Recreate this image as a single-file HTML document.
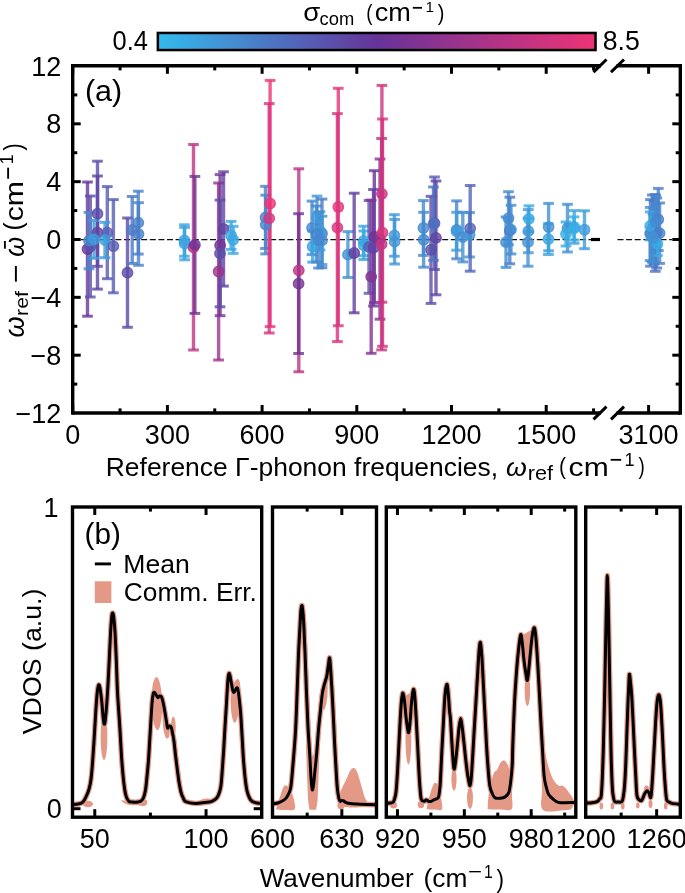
<!DOCTYPE html><html><head><meta charset="utf-8"><style>html,body{margin:0;padding:0;background:#fff;}svg{display:block;will-change:transform;}text{font-family:"Liberation Sans", sans-serif;}</style></head><body>
<svg width="685" height="893" viewBox="0 0 685 893">
<defs><linearGradient id="cb" x1="0" x2="1" y1="0" y2="0"><stop offset="0" stop-color="#33bbee"/><stop offset="0.5" stop-color="#663399"/><stop offset="1" stop-color="#ee3377"/></linearGradient><clipPath id="clipL"><rect x="72.7" y="65.8" width="527.3" height="347.2"/></clipPath></defs>
<rect width="685" height="893" fill="#fff"/>
<rect x="157.85" y="32.95" width="437.7" height="17.1" fill="url(#cb)" stroke="#000" stroke-width="2.5"/>
<text transform="translate(113.60,50.30) scale(0.9443,1)" x="-1.05" y="0" font-size="27">0.4</text>
<text transform="translate(603.80,50.30) scale(0.9879,1)" x="-1.17" y="0" font-size="27">8.5</text>
<text transform="translate(303.25,21.14) scale(1.0576,1.0221)" x="0" y="0" font-size="26">σ</text>
<text transform="translate(319.62,24.62) scale(0.9665,0.9511)" x="0" y="0" font-size="19">com</text>
<text transform="translate(366.13,19.53) scale(0.7858,0.9392)" x="0" y="0" font-size="24">(</text>
<text transform="translate(374.65,21.35) scale(1.0427,0.9829)" x="0" y="0" font-size="26">cm</text>
<text transform="translate(411.97,15.60) scale(0.9966,1.3289)" x="0" y="0" font-size="19">−</text>
<text transform="translate(425.53,12.20) scale(0.8057,0.8109)" x="0" y="0" font-size="19">1</text>
<text transform="translate(437.68,19.53) scale(0.8329,0.9392)" x="0" y="0" font-size="24">)</text>
<line x1="81" y1="239.5" x2="600.0" y2="239.5" stroke="#111" stroke-width="1.25" stroke-dasharray="6 2.6"/>
<line x1="617.5" y1="239.5" x2="672" y2="239.5" stroke="#111" stroke-width="1.25" stroke-dasharray="6 2.6"/>
<line x1="591" y1="239.5" x2="600" y2="239.5" stroke="#000" stroke-width="3.2"/>
<g>
<line x1="87.50" y1="182.00" x2="87.50" y2="316.20" stroke="#6c3397" stroke-width="3.4" stroke-opacity="0.8"/>
<line x1="82.15" y1="182.00" x2="92.85" y2="182.00" stroke="#6c3397" stroke-width="3.0" stroke-opacity="0.8"/>
<line x1="82.15" y1="316.20" x2="92.85" y2="316.20" stroke="#6c3397" stroke-width="3.0" stroke-opacity="0.8"/>
<line x1="90.30" y1="196.00" x2="90.30" y2="297.00" stroke="#5a53ad" stroke-width="3.4" stroke-opacity="0.8"/>
<line x1="84.95" y1="196.00" x2="95.65" y2="196.00" stroke="#5a53ad" stroke-width="3.0" stroke-opacity="0.8"/>
<line x1="84.95" y1="297.00" x2="95.65" y2="297.00" stroke="#5a53ad" stroke-width="3.0" stroke-opacity="0.8"/>
<line x1="89.00" y1="212.40" x2="89.00" y2="268.80" stroke="#4787cd" stroke-width="3.4" stroke-opacity="0.8"/>
<line x1="83.65" y1="212.40" x2="94.35" y2="212.40" stroke="#4787cd" stroke-width="3.0" stroke-opacity="0.8"/>
<line x1="83.65" y1="268.80" x2="94.35" y2="268.80" stroke="#4787cd" stroke-width="3.0" stroke-opacity="0.8"/>
<line x1="97.50" y1="161.20" x2="97.50" y2="266.30" stroke="#5c4eaa" stroke-width="3.4" stroke-opacity="0.8"/>
<line x1="92.15" y1="161.20" x2="102.85" y2="161.20" stroke="#5c4eaa" stroke-width="3.0" stroke-opacity="0.8"/>
<line x1="92.15" y1="266.30" x2="102.85" y2="266.30" stroke="#5c4eaa" stroke-width="3.0" stroke-opacity="0.8"/>
<line x1="97.50" y1="176.00" x2="97.50" y2="289.10" stroke="#5f45a4" stroke-width="3.4" stroke-opacity="0.8"/>
<line x1="92.15" y1="176.00" x2="102.85" y2="176.00" stroke="#5f45a4" stroke-width="3.0" stroke-opacity="0.8"/>
<line x1="92.15" y1="289.10" x2="102.85" y2="289.10" stroke="#5f45a4" stroke-width="3.0" stroke-opacity="0.8"/>
<line x1="94.00" y1="220.40" x2="94.00" y2="258.30" stroke="#3e9cdb" stroke-width="3.4" stroke-opacity="0.8"/>
<line x1="88.65" y1="220.40" x2="99.35" y2="220.40" stroke="#3e9cdb" stroke-width="3.0" stroke-opacity="0.8"/>
<line x1="88.65" y1="258.30" x2="99.35" y2="258.30" stroke="#3e9cdb" stroke-width="3.0" stroke-opacity="0.8"/>
<line x1="107.30" y1="186.60" x2="107.30" y2="278.70" stroke="#565db4" stroke-width="3.4" stroke-opacity="0.8"/>
<line x1="101.95" y1="186.60" x2="112.65" y2="186.60" stroke="#565db4" stroke-width="3.0" stroke-opacity="0.8"/>
<line x1="101.95" y1="278.70" x2="112.65" y2="278.70" stroke="#565db4" stroke-width="3.0" stroke-opacity="0.8"/>
<line x1="105.00" y1="222.30" x2="105.00" y2="257.70" stroke="#3d9fdd" stroke-width="3.4" stroke-opacity="0.8"/>
<line x1="99.65" y1="222.30" x2="110.35" y2="222.30" stroke="#3d9fdd" stroke-width="3.0" stroke-opacity="0.8"/>
<line x1="99.65" y1="257.70" x2="110.35" y2="257.70" stroke="#3d9fdd" stroke-width="3.0" stroke-opacity="0.8"/>
<line x1="113.40" y1="199.60" x2="113.40" y2="292.80" stroke="#575cb3" stroke-width="3.4" stroke-opacity="0.8"/>
<line x1="108.05" y1="199.60" x2="118.75" y2="199.60" stroke="#575cb3" stroke-width="3.0" stroke-opacity="0.8"/>
<line x1="108.05" y1="292.80" x2="118.75" y2="292.80" stroke="#575cb3" stroke-width="3.0" stroke-opacity="0.8"/>
<line x1="127.50" y1="218.00" x2="127.50" y2="327.30" stroke="#5e4aa7" stroke-width="3.4" stroke-opacity="0.8"/>
<line x1="122.15" y1="218.00" x2="132.85" y2="218.00" stroke="#5e4aa7" stroke-width="3.0" stroke-opacity="0.8"/>
<line x1="122.15" y1="327.30" x2="132.85" y2="327.30" stroke="#5e4aa7" stroke-width="3.0" stroke-opacity="0.8"/>
<line x1="132.20" y1="196.50" x2="132.20" y2="263.40" stroke="#4b7bc6" stroke-width="3.4" stroke-opacity="0.8"/>
<line x1="126.85" y1="196.50" x2="137.55" y2="196.50" stroke="#4b7bc6" stroke-width="3.0" stroke-opacity="0.8"/>
<line x1="126.85" y1="263.40" x2="137.55" y2="263.40" stroke="#4b7bc6" stroke-width="3.0" stroke-opacity="0.8"/>
<line x1="138.30" y1="191.20" x2="138.30" y2="254.10" stroke="#497fc9" stroke-width="3.4" stroke-opacity="0.8"/>
<line x1="132.95" y1="191.20" x2="143.65" y2="191.20" stroke="#497fc9" stroke-width="3.0" stroke-opacity="0.8"/>
<line x1="132.95" y1="254.10" x2="143.65" y2="254.10" stroke="#497fc9" stroke-width="3.0" stroke-opacity="0.8"/>
<line x1="138.50" y1="202.70" x2="138.50" y2="265.30" stroke="#4980c9" stroke-width="3.4" stroke-opacity="0.8"/>
<line x1="133.15" y1="202.70" x2="143.85" y2="202.70" stroke="#4980c9" stroke-width="3.0" stroke-opacity="0.8"/>
<line x1="133.15" y1="265.30" x2="143.85" y2="265.30" stroke="#4980c9" stroke-width="3.0" stroke-opacity="0.8"/>
<line x1="184.40" y1="224.80" x2="184.40" y2="256.20" stroke="#3ca4e0" stroke-width="3.4" stroke-opacity="0.8"/>
<line x1="179.05" y1="224.80" x2="189.75" y2="224.80" stroke="#3ca4e0" stroke-width="3.0" stroke-opacity="0.8"/>
<line x1="179.05" y1="256.20" x2="189.75" y2="256.20" stroke="#3ca4e0" stroke-width="3.0" stroke-opacity="0.8"/>
<line x1="184.60" y1="227.40" x2="184.60" y2="259.80" stroke="#3ca3df" stroke-width="3.4" stroke-opacity="0.8"/>
<line x1="179.25" y1="227.40" x2="189.95" y2="227.40" stroke="#3ca3df" stroke-width="3.0" stroke-opacity="0.8"/>
<line x1="179.25" y1="259.80" x2="189.95" y2="259.80" stroke="#3ca3df" stroke-width="3.0" stroke-opacity="0.8"/>
<line x1="193.50" y1="144.50" x2="193.50" y2="350.00" stroke="#bf3383" stroke-width="3.4" stroke-opacity="0.8"/>
<line x1="188.15" y1="144.50" x2="198.85" y2="144.50" stroke="#bf3383" stroke-width="3.0" stroke-opacity="0.8"/>
<line x1="188.15" y1="350.00" x2="198.85" y2="350.00" stroke="#bf3383" stroke-width="3.0" stroke-opacity="0.8"/>
<line x1="194.90" y1="176.40" x2="194.90" y2="313.40" stroke="#703397" stroke-width="3.4" stroke-opacity="0.8"/>
<line x1="189.55" y1="176.40" x2="200.25" y2="176.40" stroke="#703397" stroke-width="3.0" stroke-opacity="0.8"/>
<line x1="189.55" y1="313.40" x2="200.25" y2="313.40" stroke="#703397" stroke-width="3.0" stroke-opacity="0.8"/>
<line x1="218.60" y1="183.00" x2="218.60" y2="360.00" stroke="#9e338b" stroke-width="3.4" stroke-opacity="0.8"/>
<line x1="213.25" y1="183.00" x2="223.95" y2="183.00" stroke="#9e338b" stroke-width="3.0" stroke-opacity="0.8"/>
<line x1="213.25" y1="360.00" x2="223.95" y2="360.00" stroke="#9e338b" stroke-width="3.0" stroke-opacity="0.8"/>
<line x1="223.50" y1="171.80" x2="223.50" y2="286.10" stroke="#6044a3" stroke-width="3.4" stroke-opacity="0.8"/>
<line x1="218.15" y1="171.80" x2="228.85" y2="171.80" stroke="#6044a3" stroke-width="3.0" stroke-opacity="0.8"/>
<line x1="218.15" y1="286.10" x2="228.85" y2="286.10" stroke="#6044a3" stroke-width="3.0" stroke-opacity="0.8"/>
<line x1="220.10" y1="174.60" x2="220.10" y2="315.70" stroke="#743395" stroke-width="3.4" stroke-opacity="0.8"/>
<line x1="214.75" y1="174.60" x2="225.45" y2="174.60" stroke="#743395" stroke-width="3.0" stroke-opacity="0.8"/>
<line x1="214.75" y1="315.70" x2="225.45" y2="315.70" stroke="#743395" stroke-width="3.0" stroke-opacity="0.8"/>
<line x1="220.00" y1="200.10" x2="220.00" y2="306.80" stroke="#5c4da9" stroke-width="3.4" stroke-opacity="0.8"/>
<line x1="214.65" y1="200.10" x2="225.35" y2="200.10" stroke="#5c4da9" stroke-width="3.0" stroke-opacity="0.8"/>
<line x1="214.65" y1="306.80" x2="225.35" y2="306.80" stroke="#5c4da9" stroke-width="3.0" stroke-opacity="0.8"/>
<line x1="231.10" y1="221.40" x2="231.10" y2="249.40" stroke="#3aa8e2" stroke-width="3.4" stroke-opacity="0.8"/>
<line x1="225.75" y1="221.40" x2="236.45" y2="221.40" stroke="#3aa8e2" stroke-width="3.0" stroke-opacity="0.8"/>
<line x1="225.75" y1="249.40" x2="236.45" y2="249.40" stroke="#3aa8e2" stroke-width="3.0" stroke-opacity="0.8"/>
<line x1="233.20" y1="226.30" x2="233.20" y2="253.40" stroke="#3aa9e3" stroke-width="3.4" stroke-opacity="0.8"/>
<line x1="227.85" y1="226.30" x2="238.55" y2="226.30" stroke="#3aa9e3" stroke-width="3.0" stroke-opacity="0.8"/>
<line x1="227.85" y1="253.40" x2="238.55" y2="253.40" stroke="#3aa9e3" stroke-width="3.0" stroke-opacity="0.8"/>
<line x1="265.50" y1="186.30" x2="265.50" y2="248.50" stroke="#4980c9" stroke-width="3.4" stroke-opacity="0.8"/>
<line x1="260.15" y1="186.30" x2="270.85" y2="186.30" stroke="#4980c9" stroke-width="3.0" stroke-opacity="0.8"/>
<line x1="260.15" y1="248.50" x2="270.85" y2="248.50" stroke="#4980c9" stroke-width="3.0" stroke-opacity="0.8"/>
<line x1="265.70" y1="195.20" x2="265.70" y2="253.90" stroke="#4884cc" stroke-width="3.4" stroke-opacity="0.8"/>
<line x1="260.35" y1="195.20" x2="271.05" y2="195.20" stroke="#4884cc" stroke-width="3.0" stroke-opacity="0.8"/>
<line x1="260.35" y1="253.90" x2="271.05" y2="253.90" stroke="#4884cc" stroke-width="3.0" stroke-opacity="0.8"/>
<line x1="270.10" y1="80.40" x2="270.10" y2="326.60" stroke="#ee3377" stroke-width="3.4" stroke-opacity="0.8"/>
<line x1="264.75" y1="80.40" x2="275.45" y2="80.40" stroke="#ee3377" stroke-width="3.0" stroke-opacity="0.8"/>
<line x1="264.75" y1="326.60" x2="275.45" y2="326.60" stroke="#ee3377" stroke-width="3.0" stroke-opacity="0.8"/>
<line x1="269.20" y1="103.60" x2="269.20" y2="333.00" stroke="#db337c" stroke-width="3.4" stroke-opacity="0.8"/>
<line x1="263.85" y1="103.60" x2="274.55" y2="103.60" stroke="#db337c" stroke-width="3.0" stroke-opacity="0.8"/>
<line x1="263.85" y1="333.00" x2="274.55" y2="333.00" stroke="#db337c" stroke-width="3.0" stroke-opacity="0.8"/>
<line x1="298.80" y1="168.80" x2="298.80" y2="371.80" stroke="#bc3383" stroke-width="3.4" stroke-opacity="0.8"/>
<line x1="293.45" y1="168.80" x2="304.15" y2="168.80" stroke="#bc3383" stroke-width="3.0" stroke-opacity="0.8"/>
<line x1="293.45" y1="371.80" x2="304.15" y2="371.80" stroke="#bc3383" stroke-width="3.0" stroke-opacity="0.8"/>
<line x1="298.60" y1="213.70" x2="298.60" y2="353.50" stroke="#733396" stroke-width="3.4" stroke-opacity="0.8"/>
<line x1="293.25" y1="213.70" x2="303.95" y2="213.70" stroke="#733396" stroke-width="3.0" stroke-opacity="0.8"/>
<line x1="293.25" y1="353.50" x2="303.95" y2="353.50" stroke="#733396" stroke-width="3.0" stroke-opacity="0.8"/>
<line x1="312.00" y1="201.10" x2="312.00" y2="254.60" stroke="#458ad0" stroke-width="3.4" stroke-opacity="0.8"/>
<line x1="306.65" y1="201.10" x2="317.35" y2="201.10" stroke="#458ad0" stroke-width="3.0" stroke-opacity="0.8"/>
<line x1="306.65" y1="254.60" x2="317.35" y2="254.60" stroke="#458ad0" stroke-width="3.0" stroke-opacity="0.8"/>
<line x1="317.00" y1="196.10" x2="317.00" y2="238.50" stroke="#4097d8" stroke-width="3.4" stroke-opacity="0.8"/>
<line x1="311.65" y1="196.10" x2="322.35" y2="196.10" stroke="#4097d8" stroke-width="3.0" stroke-opacity="0.8"/>
<line x1="311.65" y1="238.50" x2="322.35" y2="238.50" stroke="#4097d8" stroke-width="3.0" stroke-opacity="0.8"/>
<line x1="322.00" y1="199.10" x2="322.00" y2="267.70" stroke="#4c79c5" stroke-width="3.4" stroke-opacity="0.8"/>
<line x1="316.65" y1="199.10" x2="327.35" y2="199.10" stroke="#4c79c5" stroke-width="3.0" stroke-opacity="0.8"/>
<line x1="316.65" y1="267.70" x2="327.35" y2="267.70" stroke="#4c79c5" stroke-width="3.0" stroke-opacity="0.8"/>
<line x1="322.00" y1="216.20" x2="322.00" y2="264.60" stroke="#4390d3" stroke-width="3.4" stroke-opacity="0.8"/>
<line x1="316.65" y1="216.20" x2="327.35" y2="216.20" stroke="#4390d3" stroke-width="3.0" stroke-opacity="0.8"/>
<line x1="316.65" y1="264.60" x2="327.35" y2="264.60" stroke="#4390d3" stroke-width="3.0" stroke-opacity="0.8"/>
<line x1="312.60" y1="230.90" x2="312.60" y2="262.10" stroke="#3ca4e0" stroke-width="3.4" stroke-opacity="0.8"/>
<line x1="307.25" y1="230.90" x2="317.95" y2="230.90" stroke="#3ca4e0" stroke-width="3.0" stroke-opacity="0.8"/>
<line x1="307.25" y1="262.10" x2="317.95" y2="262.10" stroke="#3ca4e0" stroke-width="3.0" stroke-opacity="0.8"/>
<line x1="320.00" y1="211.70" x2="320.00" y2="250.00" stroke="#3f9cdb" stroke-width="3.4" stroke-opacity="0.8"/>
<line x1="314.65" y1="211.70" x2="325.35" y2="211.70" stroke="#3f9cdb" stroke-width="3.0" stroke-opacity="0.8"/>
<line x1="314.65" y1="250.00" x2="325.35" y2="250.00" stroke="#3f9cdb" stroke-width="3.0" stroke-opacity="0.8"/>
<line x1="316.50" y1="206.00" x2="316.50" y2="262.00" stroke="#4687ce" stroke-width="3.4" stroke-opacity="0.8"/>
<line x1="311.15" y1="206.00" x2="321.85" y2="206.00" stroke="#4687ce" stroke-width="3.0" stroke-opacity="0.8"/>
<line x1="311.15" y1="262.00" x2="321.85" y2="262.00" stroke="#4687ce" stroke-width="3.0" stroke-opacity="0.8"/>
<line x1="318.50" y1="212.50" x2="318.50" y2="268.00" stroke="#4688ce" stroke-width="3.4" stroke-opacity="0.8"/>
<line x1="313.15" y1="212.50" x2="323.85" y2="212.50" stroke="#4688ce" stroke-width="3.0" stroke-opacity="0.8"/>
<line x1="313.15" y1="268.00" x2="323.85" y2="268.00" stroke="#4688ce" stroke-width="3.0" stroke-opacity="0.8"/>
<line x1="338.30" y1="88.30" x2="338.30" y2="325.70" stroke="#e43379" stroke-width="3.4" stroke-opacity="0.8"/>
<line x1="332.95" y1="88.30" x2="343.65" y2="88.30" stroke="#e43379" stroke-width="3.0" stroke-opacity="0.8"/>
<line x1="332.95" y1="325.70" x2="343.65" y2="325.70" stroke="#e43379" stroke-width="3.0" stroke-opacity="0.8"/>
<line x1="337.40" y1="113.60" x2="337.40" y2="341.60" stroke="#d9337c" stroke-width="3.4" stroke-opacity="0.8"/>
<line x1="332.05" y1="113.60" x2="342.75" y2="113.60" stroke="#d9337c" stroke-width="3.0" stroke-opacity="0.8"/>
<line x1="332.05" y1="341.60" x2="342.75" y2="341.60" stroke="#d9337c" stroke-width="3.0" stroke-opacity="0.8"/>
<line x1="347.90" y1="231.60" x2="347.90" y2="277.50" stroke="#4293d5" stroke-width="3.4" stroke-opacity="0.8"/>
<line x1="342.55" y1="231.60" x2="353.25" y2="231.60" stroke="#4293d5" stroke-width="3.0" stroke-opacity="0.8"/>
<line x1="342.55" y1="277.50" x2="353.25" y2="277.50" stroke="#4293d5" stroke-width="3.0" stroke-opacity="0.8"/>
<line x1="354.20" y1="193.20" x2="354.20" y2="312.80" stroke="#623ea0" stroke-width="3.4" stroke-opacity="0.8"/>
<line x1="348.85" y1="193.20" x2="359.55" y2="193.20" stroke="#623ea0" stroke-width="3.0" stroke-opacity="0.8"/>
<line x1="348.85" y1="312.80" x2="359.55" y2="312.80" stroke="#623ea0" stroke-width="3.0" stroke-opacity="0.8"/>
<line x1="363.60" y1="226.20" x2="363.60" y2="255.70" stroke="#3ba6e1" stroke-width="3.4" stroke-opacity="0.8"/>
<line x1="358.25" y1="226.20" x2="368.95" y2="226.20" stroke="#3ba6e1" stroke-width="3.0" stroke-opacity="0.8"/>
<line x1="358.25" y1="255.70" x2="368.95" y2="255.70" stroke="#3ba6e1" stroke-width="3.0" stroke-opacity="0.8"/>
<line x1="363.80" y1="231.00" x2="363.80" y2="259.50" stroke="#3aa7e2" stroke-width="3.4" stroke-opacity="0.8"/>
<line x1="358.45" y1="231.00" x2="369.15" y2="231.00" stroke="#3aa7e2" stroke-width="3.0" stroke-opacity="0.8"/>
<line x1="358.45" y1="259.50" x2="369.15" y2="259.50" stroke="#3aa7e2" stroke-width="3.0" stroke-opacity="0.8"/>
<line x1="369.00" y1="200.50" x2="369.00" y2="293.30" stroke="#565db3" stroke-width="3.4" stroke-opacity="0.8"/>
<line x1="363.65" y1="200.50" x2="374.35" y2="200.50" stroke="#565db3" stroke-width="3.0" stroke-opacity="0.8"/>
<line x1="363.65" y1="293.30" x2="374.35" y2="293.30" stroke="#565db3" stroke-width="3.0" stroke-opacity="0.8"/>
<line x1="374.30" y1="170.70" x2="374.30" y2="302.70" stroke="#6a3398" stroke-width="3.4" stroke-opacity="0.8"/>
<line x1="368.95" y1="170.70" x2="379.65" y2="170.70" stroke="#6a3398" stroke-width="3.0" stroke-opacity="0.8"/>
<line x1="368.95" y1="302.70" x2="379.65" y2="302.70" stroke="#6a3398" stroke-width="3.0" stroke-opacity="0.8"/>
<line x1="373.50" y1="189.50" x2="373.50" y2="306.00" stroke="#6141a2" stroke-width="3.4" stroke-opacity="0.8"/>
<line x1="368.15" y1="189.50" x2="378.85" y2="189.50" stroke="#6141a2" stroke-width="3.0" stroke-opacity="0.8"/>
<line x1="368.15" y1="306.00" x2="378.85" y2="306.00" stroke="#6141a2" stroke-width="3.0" stroke-opacity="0.8"/>
<line x1="371.20" y1="200.10" x2="371.20" y2="353.30" stroke="#823392" stroke-width="3.4" stroke-opacity="0.8"/>
<line x1="365.85" y1="200.10" x2="376.55" y2="200.10" stroke="#823392" stroke-width="3.0" stroke-opacity="0.8"/>
<line x1="365.85" y1="353.30" x2="376.55" y2="353.30" stroke="#823392" stroke-width="3.0" stroke-opacity="0.8"/>
<line x1="380.00" y1="159.00" x2="380.00" y2="319.20" stroke="#8b3390" stroke-width="3.4" stroke-opacity="0.8"/>
<line x1="374.65" y1="159.00" x2="385.35" y2="159.00" stroke="#8b3390" stroke-width="3.0" stroke-opacity="0.8"/>
<line x1="374.65" y1="319.20" x2="385.35" y2="319.20" stroke="#8b3390" stroke-width="3.0" stroke-opacity="0.8"/>
<line x1="381.90" y1="85.40" x2="381.90" y2="302.20" stroke="#cc337f" stroke-width="3.4" stroke-opacity="0.8"/>
<line x1="376.55" y1="85.40" x2="387.25" y2="85.40" stroke="#cc337f" stroke-width="3.0" stroke-opacity="0.8"/>
<line x1="376.55" y1="302.20" x2="387.25" y2="302.20" stroke="#cc337f" stroke-width="3.0" stroke-opacity="0.8"/>
<line x1="382.50" y1="119.00" x2="382.50" y2="346.30" stroke="#d8337c" stroke-width="3.4" stroke-opacity="0.8"/>
<line x1="377.15" y1="119.00" x2="387.85" y2="119.00" stroke="#d8337c" stroke-width="3.0" stroke-opacity="0.8"/>
<line x1="377.15" y1="346.30" x2="387.85" y2="346.30" stroke="#d8337c" stroke-width="3.0" stroke-opacity="0.8"/>
<line x1="381.60" y1="138.50" x2="381.60" y2="349.90" stroke="#c63381" stroke-width="3.4" stroke-opacity="0.8"/>
<line x1="376.25" y1="138.50" x2="386.95" y2="138.50" stroke="#c63381" stroke-width="3.0" stroke-opacity="0.8"/>
<line x1="376.25" y1="349.90" x2="386.95" y2="349.90" stroke="#c63381" stroke-width="3.0" stroke-opacity="0.8"/>
<line x1="394.40" y1="214.70" x2="394.40" y2="256.20" stroke="#4098d8" stroke-width="3.4" stroke-opacity="0.8"/>
<line x1="389.05" y1="214.70" x2="399.75" y2="214.70" stroke="#4098d8" stroke-width="3.0" stroke-opacity="0.8"/>
<line x1="389.05" y1="256.20" x2="399.75" y2="256.20" stroke="#4098d8" stroke-width="3.0" stroke-opacity="0.8"/>
<line x1="394.60" y1="219.40" x2="394.60" y2="264.00" stroke="#4195d6" stroke-width="3.4" stroke-opacity="0.8"/>
<line x1="389.25" y1="219.40" x2="399.95" y2="219.40" stroke="#4195d6" stroke-width="3.0" stroke-opacity="0.8"/>
<line x1="389.25" y1="264.00" x2="399.95" y2="264.00" stroke="#4195d6" stroke-width="3.0" stroke-opacity="0.8"/>
<line x1="423.40" y1="200.60" x2="423.40" y2="255.40" stroke="#4689cf" stroke-width="3.4" stroke-opacity="0.8"/>
<line x1="418.05" y1="200.60" x2="428.75" y2="200.60" stroke="#4689cf" stroke-width="3.0" stroke-opacity="0.8"/>
<line x1="418.05" y1="255.40" x2="428.75" y2="255.40" stroke="#4689cf" stroke-width="3.0" stroke-opacity="0.8"/>
<line x1="423.60" y1="212.30" x2="423.60" y2="267.20" stroke="#4689cf" stroke-width="3.4" stroke-opacity="0.8"/>
<line x1="418.25" y1="212.30" x2="428.95" y2="212.30" stroke="#4689cf" stroke-width="3.0" stroke-opacity="0.8"/>
<line x1="418.25" y1="267.20" x2="428.95" y2="267.20" stroke="#4689cf" stroke-width="3.0" stroke-opacity="0.8"/>
<line x1="434.50" y1="177.00" x2="434.50" y2="269.50" stroke="#565db3" stroke-width="3.4" stroke-opacity="0.8"/>
<line x1="429.15" y1="177.00" x2="439.85" y2="177.00" stroke="#565db3" stroke-width="3.0" stroke-opacity="0.8"/>
<line x1="429.15" y1="269.50" x2="439.85" y2="269.50" stroke="#565db3" stroke-width="3.0" stroke-opacity="0.8"/>
<line x1="436.00" y1="181.00" x2="436.00" y2="294.80" stroke="#6044a4" stroke-width="3.4" stroke-opacity="0.8"/>
<line x1="430.65" y1="181.00" x2="441.35" y2="181.00" stroke="#6044a4" stroke-width="3.0" stroke-opacity="0.8"/>
<line x1="430.65" y1="294.80" x2="441.35" y2="294.80" stroke="#6044a4" stroke-width="3.0" stroke-opacity="0.8"/>
<line x1="431.00" y1="196.30" x2="431.00" y2="303.40" stroke="#5d4ca9" stroke-width="3.4" stroke-opacity="0.8"/>
<line x1="425.65" y1="196.30" x2="436.35" y2="196.30" stroke="#5d4ca9" stroke-width="3.0" stroke-opacity="0.8"/>
<line x1="425.65" y1="303.40" x2="436.35" y2="303.40" stroke="#5d4ca9" stroke-width="3.0" stroke-opacity="0.8"/>
<line x1="433.50" y1="187.00" x2="433.50" y2="260.30" stroke="#4e73c1" stroke-width="3.4" stroke-opacity="0.8"/>
<line x1="428.15" y1="187.00" x2="438.85" y2="187.00" stroke="#4e73c1" stroke-width="3.0" stroke-opacity="0.8"/>
<line x1="428.15" y1="260.30" x2="438.85" y2="260.30" stroke="#4e73c1" stroke-width="3.0" stroke-opacity="0.8"/>
<line x1="456.60" y1="200.90" x2="456.60" y2="258.80" stroke="#4785cc" stroke-width="3.4" stroke-opacity="0.8"/>
<line x1="451.25" y1="200.90" x2="461.95" y2="200.90" stroke="#4785cc" stroke-width="3.0" stroke-opacity="0.8"/>
<line x1="451.25" y1="258.80" x2="461.95" y2="258.80" stroke="#4785cc" stroke-width="3.0" stroke-opacity="0.8"/>
<line x1="456.60" y1="212.30" x2="456.60" y2="250.20" stroke="#3e9cdb" stroke-width="3.4" stroke-opacity="0.8"/>
<line x1="451.25" y1="212.30" x2="461.95" y2="212.30" stroke="#3e9cdb" stroke-width="3.0" stroke-opacity="0.8"/>
<line x1="451.25" y1="250.20" x2="461.95" y2="250.20" stroke="#3e9cdb" stroke-width="3.0" stroke-opacity="0.8"/>
<line x1="462.80" y1="212.30" x2="462.80" y2="261.90" stroke="#448fd2" stroke-width="3.4" stroke-opacity="0.8"/>
<line x1="457.45" y1="212.30" x2="468.15" y2="212.30" stroke="#448fd2" stroke-width="3.0" stroke-opacity="0.8"/>
<line x1="457.45" y1="261.90" x2="468.15" y2="261.90" stroke="#448fd2" stroke-width="3.0" stroke-opacity="0.8"/>
<line x1="469.60" y1="212.60" x2="469.60" y2="257.00" stroke="#4195d6" stroke-width="3.4" stroke-opacity="0.8"/>
<line x1="464.25" y1="212.60" x2="474.95" y2="212.60" stroke="#4195d6" stroke-width="3.0" stroke-opacity="0.8"/>
<line x1="464.25" y1="257.00" x2="474.95" y2="257.00" stroke="#4195d6" stroke-width="3.0" stroke-opacity="0.8"/>
<line x1="470.20" y1="185.50" x2="470.20" y2="271.20" stroke="#5365b8" stroke-width="3.4" stroke-opacity="0.8"/>
<line x1="464.85" y1="185.50" x2="475.55" y2="185.50" stroke="#5365b8" stroke-width="3.0" stroke-opacity="0.8"/>
<line x1="464.85" y1="271.20" x2="475.55" y2="271.20" stroke="#5365b8" stroke-width="3.0" stroke-opacity="0.8"/>
<line x1="508.50" y1="191.70" x2="508.50" y2="244.70" stroke="#458bd0" stroke-width="3.4" stroke-opacity="0.8"/>
<line x1="503.15" y1="191.70" x2="513.85" y2="191.70" stroke="#458bd0" stroke-width="3.0" stroke-opacity="0.8"/>
<line x1="503.15" y1="244.70" x2="513.85" y2="244.70" stroke="#458bd0" stroke-width="3.0" stroke-opacity="0.8"/>
<line x1="509.80" y1="197.20" x2="509.80" y2="263.80" stroke="#4b7bc6" stroke-width="3.4" stroke-opacity="0.8"/>
<line x1="504.45" y1="197.20" x2="515.15" y2="197.20" stroke="#4b7bc6" stroke-width="3.0" stroke-opacity="0.8"/>
<line x1="504.45" y1="263.80" x2="515.15" y2="263.80" stroke="#4b7bc6" stroke-width="3.0" stroke-opacity="0.8"/>
<line x1="506.00" y1="217.00" x2="506.00" y2="267.40" stroke="#448ed2" stroke-width="3.4" stroke-opacity="0.8"/>
<line x1="500.65" y1="217.00" x2="511.35" y2="217.00" stroke="#448ed2" stroke-width="3.0" stroke-opacity="0.8"/>
<line x1="500.65" y1="267.40" x2="511.35" y2="267.40" stroke="#448ed2" stroke-width="3.0" stroke-opacity="0.8"/>
<line x1="511.00" y1="205.30" x2="511.00" y2="253.90" stroke="#4390d3" stroke-width="3.4" stroke-opacity="0.8"/>
<line x1="505.65" y1="205.30" x2="516.35" y2="205.30" stroke="#4390d3" stroke-width="3.0" stroke-opacity="0.8"/>
<line x1="505.65" y1="253.90" x2="516.35" y2="253.90" stroke="#4390d3" stroke-width="3.0" stroke-opacity="0.8"/>
<line x1="528.90" y1="205.80" x2="528.90" y2="231.80" stroke="#39aae4" stroke-width="3.4" stroke-opacity="0.8"/>
<line x1="523.55" y1="205.80" x2="534.25" y2="205.80" stroke="#39aae4" stroke-width="3.0" stroke-opacity="0.8"/>
<line x1="523.55" y1="231.80" x2="534.25" y2="231.80" stroke="#39aae4" stroke-width="3.0" stroke-opacity="0.8"/>
<line x1="528.30" y1="209.60" x2="528.30" y2="252.70" stroke="#4196d7" stroke-width="3.4" stroke-opacity="0.8"/>
<line x1="522.95" y1="209.60" x2="533.65" y2="209.60" stroke="#4196d7" stroke-width="3.0" stroke-opacity="0.8"/>
<line x1="522.95" y1="252.70" x2="533.65" y2="252.70" stroke="#4196d7" stroke-width="3.0" stroke-opacity="0.8"/>
<line x1="528.00" y1="218.20" x2="528.00" y2="266.20" stroke="#4391d4" stroke-width="3.4" stroke-opacity="0.8"/>
<line x1="522.65" y1="218.20" x2="533.35" y2="218.20" stroke="#4391d4" stroke-width="3.0" stroke-opacity="0.8"/>
<line x1="522.65" y1="266.20" x2="533.35" y2="266.20" stroke="#4391d4" stroke-width="3.0" stroke-opacity="0.8"/>
<line x1="548.60" y1="203.40" x2="548.60" y2="250.80" stroke="#4391d4" stroke-width="3.4" stroke-opacity="0.8"/>
<line x1="543.25" y1="203.40" x2="553.95" y2="203.40" stroke="#4391d4" stroke-width="3.0" stroke-opacity="0.8"/>
<line x1="543.25" y1="250.80" x2="553.95" y2="250.80" stroke="#4391d4" stroke-width="3.0" stroke-opacity="0.8"/>
<line x1="548.40" y1="223.70" x2="548.40" y2="254.50" stroke="#3ba5e0" stroke-width="3.4" stroke-opacity="0.8"/>
<line x1="543.05" y1="223.70" x2="553.75" y2="223.70" stroke="#3ba5e0" stroke-width="3.0" stroke-opacity="0.8"/>
<line x1="543.05" y1="254.50" x2="553.75" y2="254.50" stroke="#3ba5e0" stroke-width="3.0" stroke-opacity="0.8"/>
<line x1="567.50" y1="204.30" x2="567.50" y2="252.00" stroke="#4391d4" stroke-width="3.4" stroke-opacity="0.8"/>
<line x1="562.15" y1="204.30" x2="572.85" y2="204.30" stroke="#4391d4" stroke-width="3.0" stroke-opacity="0.8"/>
<line x1="562.15" y1="252.00" x2="572.85" y2="252.00" stroke="#4391d4" stroke-width="3.0" stroke-opacity="0.8"/>
<line x1="566.00" y1="222.00" x2="566.00" y2="246.00" stroke="#38ade5" stroke-width="3.4" stroke-opacity="0.8"/>
<line x1="560.65" y1="222.00" x2="571.35" y2="222.00" stroke="#38ade5" stroke-width="3.0" stroke-opacity="0.8"/>
<line x1="560.65" y1="246.00" x2="571.35" y2="246.00" stroke="#38ade5" stroke-width="3.0" stroke-opacity="0.8"/>
<line x1="574.20" y1="210.60" x2="574.20" y2="243.30" stroke="#3ca2df" stroke-width="3.4" stroke-opacity="0.8"/>
<line x1="568.85" y1="210.60" x2="579.55" y2="210.60" stroke="#3ca2df" stroke-width="3.0" stroke-opacity="0.8"/>
<line x1="568.85" y1="243.30" x2="579.55" y2="243.30" stroke="#3ca2df" stroke-width="3.0" stroke-opacity="0.8"/>
<line x1="574.00" y1="216.90" x2="574.00" y2="240.00" stroke="#38aee6" stroke-width="3.4" stroke-opacity="0.8"/>
<line x1="568.65" y1="216.90" x2="579.35" y2="216.90" stroke="#38aee6" stroke-width="3.0" stroke-opacity="0.8"/>
<line x1="568.65" y1="240.00" x2="579.35" y2="240.00" stroke="#38aee6" stroke-width="3.0" stroke-opacity="0.8"/>
<line x1="584.50" y1="210.80" x2="584.50" y2="248.70" stroke="#3e9cdb" stroke-width="3.4" stroke-opacity="0.8"/>
<line x1="579.15" y1="210.80" x2="589.85" y2="210.80" stroke="#3e9cdb" stroke-width="3.0" stroke-opacity="0.8"/>
<line x1="579.15" y1="248.70" x2="589.85" y2="248.70" stroke="#3e9cdb" stroke-width="3.0" stroke-opacity="0.8"/>
<line x1="652.40" y1="195.00" x2="652.40" y2="262.00" stroke="#4b7bc6" stroke-width="3.4" stroke-opacity="0.8"/>
<line x1="647.05" y1="195.00" x2="657.75" y2="195.00" stroke="#4b7bc6" stroke-width="3.0" stroke-opacity="0.8"/>
<line x1="647.05" y1="262.00" x2="657.75" y2="262.00" stroke="#4b7bc6" stroke-width="3.0" stroke-opacity="0.8"/>
<line x1="654.10" y1="201.00" x2="654.10" y2="264.00" stroke="#497fc9" stroke-width="3.4" stroke-opacity="0.8"/>
<line x1="648.75" y1="201.00" x2="659.45" y2="201.00" stroke="#497fc9" stroke-width="3.0" stroke-opacity="0.8"/>
<line x1="648.75" y1="264.00" x2="659.45" y2="264.00" stroke="#497fc9" stroke-width="3.0" stroke-opacity="0.8"/>
<line x1="656.70" y1="198.00" x2="656.70" y2="268.00" stroke="#4c77c4" stroke-width="3.4" stroke-opacity="0.8"/>
<line x1="651.35" y1="198.00" x2="662.05" y2="198.00" stroke="#4c77c4" stroke-width="3.0" stroke-opacity="0.8"/>
<line x1="651.35" y1="268.00" x2="662.05" y2="268.00" stroke="#4c77c4" stroke-width="3.0" stroke-opacity="0.8"/>
<line x1="658.30" y1="188.40" x2="658.30" y2="250.50" stroke="#4980c9" stroke-width="3.4" stroke-opacity="0.8"/>
<line x1="652.95" y1="188.40" x2="663.65" y2="188.40" stroke="#4980c9" stroke-width="3.0" stroke-opacity="0.8"/>
<line x1="652.95" y1="250.50" x2="663.65" y2="250.50" stroke="#4980c9" stroke-width="3.0" stroke-opacity="0.8"/>
<line x1="655.30" y1="194.60" x2="655.30" y2="271.30" stroke="#4f6fbf" stroke-width="3.4" stroke-opacity="0.8"/>
<line x1="649.95" y1="194.60" x2="660.65" y2="194.60" stroke="#4f6fbf" stroke-width="3.0" stroke-opacity="0.8"/>
<line x1="649.95" y1="271.30" x2="660.65" y2="271.30" stroke="#4f6fbf" stroke-width="3.0" stroke-opacity="0.8"/>
<line x1="659.60" y1="203.00" x2="659.60" y2="263.40" stroke="#4882cb" stroke-width="3.4" stroke-opacity="0.8"/>
<line x1="654.25" y1="203.00" x2="664.95" y2="203.00" stroke="#4882cb" stroke-width="3.0" stroke-opacity="0.8"/>
<line x1="654.25" y1="263.40" x2="664.95" y2="263.40" stroke="#4882cb" stroke-width="3.0" stroke-opacity="0.8"/>
<line x1="650.50" y1="199.60" x2="650.50" y2="266.20" stroke="#4b7bc6" stroke-width="3.4" stroke-opacity="0.8"/>
<line x1="645.15" y1="199.60" x2="655.85" y2="199.60" stroke="#4b7bc6" stroke-width="3.0" stroke-opacity="0.8"/>
<line x1="645.15" y1="266.20" x2="655.85" y2="266.20" stroke="#4b7bc6" stroke-width="3.0" stroke-opacity="0.8"/>
<line x1="650.20" y1="207.40" x2="650.20" y2="260.60" stroke="#458bd0" stroke-width="3.4" stroke-opacity="0.8"/>
<line x1="644.85" y1="207.40" x2="655.55" y2="207.40" stroke="#458bd0" stroke-width="3.0" stroke-opacity="0.8"/>
<line x1="644.85" y1="260.60" x2="655.55" y2="260.60" stroke="#458bd0" stroke-width="3.0" stroke-opacity="0.8"/>
<line x1="650.20" y1="211.90" x2="650.20" y2="239.90" stroke="#3aa8e2" stroke-width="3.4" stroke-opacity="0.8"/>
<line x1="644.85" y1="211.90" x2="655.55" y2="211.90" stroke="#3aa8e2" stroke-width="3.0" stroke-opacity="0.8"/>
<line x1="644.85" y1="239.90" x2="655.55" y2="239.90" stroke="#3aa8e2" stroke-width="3.0" stroke-opacity="0.8"/>
<line x1="657.40" y1="232.00" x2="657.40" y2="255.60" stroke="#38ade5" stroke-width="3.4" stroke-opacity="0.8"/>
<line x1="652.05" y1="232.00" x2="662.75" y2="232.00" stroke="#38ade5" stroke-width="3.0" stroke-opacity="0.8"/>
<line x1="652.05" y1="255.60" x2="662.75" y2="255.60" stroke="#38ade5" stroke-width="3.0" stroke-opacity="0.8"/>
<line x1="653.10" y1="214.00" x2="653.10" y2="262.00" stroke="#4391d4" stroke-width="3.4" stroke-opacity="0.8"/>
<line x1="647.75" y1="214.00" x2="658.45" y2="214.00" stroke="#4391d4" stroke-width="3.0" stroke-opacity="0.8"/>
<line x1="647.75" y1="262.00" x2="658.45" y2="262.00" stroke="#4391d4" stroke-width="3.0" stroke-opacity="0.8"/>
<line x1="655.70" y1="196.00" x2="655.70" y2="248.00" stroke="#458cd1" stroke-width="3.4" stroke-opacity="0.8"/>
<line x1="650.35" y1="196.00" x2="661.05" y2="196.00" stroke="#458cd1" stroke-width="3.0" stroke-opacity="0.8"/>
<line x1="650.35" y1="248.00" x2="661.05" y2="248.00" stroke="#458cd1" stroke-width="3.0" stroke-opacity="0.8"/>
<circle cx="87.50" cy="249.10" r="5.3" fill="#6c3397" fill-opacity="0.8" stroke="#6c3397" stroke-opacity="0.8" stroke-width="1.2"/>
<circle cx="90.30" cy="246.50" r="5.3" fill="#5a53ad" fill-opacity="0.8" stroke="#5a53ad" stroke-opacity="0.8" stroke-width="1.2"/>
<circle cx="89.00" cy="240.60" r="5.3" fill="#4787cd" fill-opacity="0.8" stroke="#4787cd" stroke-opacity="0.8" stroke-width="1.2"/>
<circle cx="97.50" cy="213.75" r="5.3" fill="#5c4eaa" fill-opacity="0.8" stroke="#5c4eaa" stroke-opacity="0.8" stroke-width="1.2"/>
<circle cx="97.50" cy="232.55" r="5.3" fill="#5f45a4" fill-opacity="0.8" stroke="#5f45a4" stroke-opacity="0.8" stroke-width="1.2"/>
<circle cx="94.00" cy="239.35" r="5.3" fill="#3e9cdb" fill-opacity="0.8" stroke="#3e9cdb" stroke-opacity="0.8" stroke-width="1.2"/>
<circle cx="107.30" cy="232.65" r="5.3" fill="#565db4" fill-opacity="0.8" stroke="#565db4" stroke-opacity="0.8" stroke-width="1.2"/>
<circle cx="105.00" cy="240.00" r="5.3" fill="#3d9fdd" fill-opacity="0.8" stroke="#3d9fdd" stroke-opacity="0.8" stroke-width="1.2"/>
<circle cx="113.40" cy="246.20" r="5.3" fill="#575cb3" fill-opacity="0.8" stroke="#575cb3" stroke-opacity="0.8" stroke-width="1.2"/>
<circle cx="127.50" cy="272.65" r="5.3" fill="#5e4aa7" fill-opacity="0.8" stroke="#5e4aa7" stroke-opacity="0.8" stroke-width="1.2"/>
<circle cx="132.20" cy="229.95" r="5.3" fill="#4b7bc6" fill-opacity="0.8" stroke="#4b7bc6" stroke-opacity="0.8" stroke-width="1.2"/>
<circle cx="138.30" cy="222.65" r="5.3" fill="#497fc9" fill-opacity="0.8" stroke="#497fc9" stroke-opacity="0.8" stroke-width="1.2"/>
<circle cx="138.50" cy="234.00" r="5.3" fill="#4980c9" fill-opacity="0.8" stroke="#4980c9" stroke-opacity="0.8" stroke-width="1.2"/>
<circle cx="184.40" cy="240.50" r="5.3" fill="#3ca4e0" fill-opacity="0.8" stroke="#3ca4e0" stroke-opacity="0.8" stroke-width="1.2"/>
<circle cx="184.60" cy="243.60" r="5.3" fill="#3ca3df" fill-opacity="0.8" stroke="#3ca3df" stroke-opacity="0.8" stroke-width="1.2"/>
<circle cx="193.50" cy="247.25" r="5.3" fill="#bf3383" fill-opacity="0.8" stroke="#bf3383" stroke-opacity="0.8" stroke-width="1.2"/>
<circle cx="194.90" cy="244.90" r="5.3" fill="#703397" fill-opacity="0.8" stroke="#703397" stroke-opacity="0.8" stroke-width="1.2"/>
<circle cx="218.60" cy="271.50" r="5.3" fill="#9e338b" fill-opacity="0.8" stroke="#9e338b" stroke-opacity="0.8" stroke-width="1.2"/>
<circle cx="223.50" cy="228.95" r="5.3" fill="#6044a3" fill-opacity="0.8" stroke="#6044a3" stroke-opacity="0.8" stroke-width="1.2"/>
<circle cx="220.10" cy="245.15" r="5.3" fill="#743395" fill-opacity="0.8" stroke="#743395" stroke-opacity="0.8" stroke-width="1.2"/>
<circle cx="220.00" cy="253.45" r="5.3" fill="#5c4da9" fill-opacity="0.8" stroke="#5c4da9" stroke-opacity="0.8" stroke-width="1.2"/>
<circle cx="231.10" cy="235.40" r="5.3" fill="#3aa8e2" fill-opacity="0.8" stroke="#3aa8e2" stroke-opacity="0.8" stroke-width="1.2"/>
<circle cx="233.20" cy="239.85" r="5.3" fill="#3aa9e3" fill-opacity="0.8" stroke="#3aa9e3" stroke-opacity="0.8" stroke-width="1.2"/>
<circle cx="265.50" cy="217.40" r="5.3" fill="#4980c9" fill-opacity="0.8" stroke="#4980c9" stroke-opacity="0.8" stroke-width="1.2"/>
<circle cx="265.70" cy="224.55" r="5.3" fill="#4884cc" fill-opacity="0.8" stroke="#4884cc" stroke-opacity="0.8" stroke-width="1.2"/>
<circle cx="270.10" cy="203.50" r="5.3" fill="#ee3377" fill-opacity="0.8" stroke="#ee3377" stroke-opacity="0.8" stroke-width="1.2"/>
<circle cx="269.20" cy="218.30" r="5.3" fill="#db337c" fill-opacity="0.8" stroke="#db337c" stroke-opacity="0.8" stroke-width="1.2"/>
<circle cx="298.80" cy="270.30" r="5.3" fill="#bc3383" fill-opacity="0.8" stroke="#bc3383" stroke-opacity="0.8" stroke-width="1.2"/>
<circle cx="298.60" cy="283.60" r="5.3" fill="#733396" fill-opacity="0.8" stroke="#733396" stroke-opacity="0.8" stroke-width="1.2"/>
<circle cx="312.00" cy="227.85" r="5.3" fill="#458ad0" fill-opacity="0.8" stroke="#458ad0" stroke-opacity="0.8" stroke-width="1.2"/>
<circle cx="317.00" cy="217.30" r="5.3" fill="#4097d8" fill-opacity="0.8" stroke="#4097d8" stroke-opacity="0.8" stroke-width="1.2"/>
<circle cx="322.00" cy="233.40" r="5.3" fill="#4c79c5" fill-opacity="0.8" stroke="#4c79c5" stroke-opacity="0.8" stroke-width="1.2"/>
<circle cx="322.00" cy="240.40" r="5.3" fill="#4390d3" fill-opacity="0.8" stroke="#4390d3" stroke-opacity="0.8" stroke-width="1.2"/>
<circle cx="312.60" cy="246.50" r="5.3" fill="#3ca4e0" fill-opacity="0.8" stroke="#3ca4e0" stroke-opacity="0.8" stroke-width="1.2"/>
<circle cx="320.00" cy="230.85" r="5.3" fill="#3f9cdb" fill-opacity="0.8" stroke="#3f9cdb" stroke-opacity="0.8" stroke-width="1.2"/>
<circle cx="316.50" cy="234.00" r="5.3" fill="#4687ce" fill-opacity="0.8" stroke="#4687ce" stroke-opacity="0.8" stroke-width="1.2"/>
<circle cx="318.50" cy="240.25" r="5.3" fill="#4688ce" fill-opacity="0.8" stroke="#4688ce" stroke-opacity="0.8" stroke-width="1.2"/>
<circle cx="338.30" cy="207.00" r="5.3" fill="#e43379" fill-opacity="0.8" stroke="#e43379" stroke-opacity="0.8" stroke-width="1.2"/>
<circle cx="337.40" cy="227.60" r="5.3" fill="#d9337c" fill-opacity="0.8" stroke="#d9337c" stroke-opacity="0.8" stroke-width="1.2"/>
<circle cx="347.90" cy="254.55" r="5.3" fill="#4293d5" fill-opacity="0.8" stroke="#4293d5" stroke-opacity="0.8" stroke-width="1.2"/>
<circle cx="354.20" cy="253.00" r="5.3" fill="#623ea0" fill-opacity="0.8" stroke="#623ea0" stroke-opacity="0.8" stroke-width="1.2"/>
<circle cx="363.60" cy="240.95" r="5.3" fill="#3ba6e1" fill-opacity="0.8" stroke="#3ba6e1" stroke-opacity="0.8" stroke-width="1.2"/>
<circle cx="363.80" cy="245.25" r="5.3" fill="#3aa7e2" fill-opacity="0.8" stroke="#3aa7e2" stroke-opacity="0.8" stroke-width="1.2"/>
<circle cx="369.00" cy="246.90" r="5.3" fill="#565db3" fill-opacity="0.8" stroke="#565db3" stroke-opacity="0.8" stroke-width="1.2"/>
<circle cx="374.30" cy="236.70" r="5.3" fill="#6a3398" fill-opacity="0.8" stroke="#6a3398" stroke-opacity="0.8" stroke-width="1.2"/>
<circle cx="373.50" cy="247.75" r="5.3" fill="#6141a2" fill-opacity="0.8" stroke="#6141a2" stroke-opacity="0.8" stroke-width="1.2"/>
<circle cx="371.20" cy="276.70" r="5.3" fill="#823392" fill-opacity="0.8" stroke="#823392" stroke-opacity="0.8" stroke-width="1.2"/>
<circle cx="380.00" cy="239.10" r="5.3" fill="#8b3390" fill-opacity="0.8" stroke="#8b3390" stroke-opacity="0.8" stroke-width="1.2"/>
<circle cx="381.90" cy="193.80" r="5.3" fill="#cc337f" fill-opacity="0.8" stroke="#cc337f" stroke-opacity="0.8" stroke-width="1.2"/>
<circle cx="382.50" cy="232.65" r="5.3" fill="#d8337c" fill-opacity="0.8" stroke="#d8337c" stroke-opacity="0.8" stroke-width="1.2"/>
<circle cx="381.60" cy="244.20" r="5.3" fill="#c63381" fill-opacity="0.8" stroke="#c63381" stroke-opacity="0.8" stroke-width="1.2"/>
<circle cx="394.40" cy="235.45" r="5.3" fill="#4098d8" fill-opacity="0.8" stroke="#4098d8" stroke-opacity="0.8" stroke-width="1.2"/>
<circle cx="394.60" cy="241.70" r="5.3" fill="#4195d6" fill-opacity="0.8" stroke="#4195d6" stroke-opacity="0.8" stroke-width="1.2"/>
<circle cx="423.40" cy="228.00" r="5.3" fill="#4689cf" fill-opacity="0.8" stroke="#4689cf" stroke-opacity="0.8" stroke-width="1.2"/>
<circle cx="423.60" cy="239.75" r="5.3" fill="#4689cf" fill-opacity="0.8" stroke="#4689cf" stroke-opacity="0.8" stroke-width="1.2"/>
<circle cx="434.50" cy="223.25" r="5.3" fill="#565db3" fill-opacity="0.8" stroke="#565db3" stroke-opacity="0.8" stroke-width="1.2"/>
<circle cx="436.00" cy="237.90" r="5.3" fill="#6044a4" fill-opacity="0.8" stroke="#6044a4" stroke-opacity="0.8" stroke-width="1.2"/>
<circle cx="431.00" cy="249.85" r="5.3" fill="#5d4ca9" fill-opacity="0.8" stroke="#5d4ca9" stroke-opacity="0.8" stroke-width="1.2"/>
<circle cx="433.50" cy="223.65" r="5.3" fill="#4e73c1" fill-opacity="0.8" stroke="#4e73c1" stroke-opacity="0.8" stroke-width="1.2"/>
<circle cx="456.60" cy="229.85" r="5.3" fill="#4785cc" fill-opacity="0.8" stroke="#4785cc" stroke-opacity="0.8" stroke-width="1.2"/>
<circle cx="456.60" cy="231.25" r="5.3" fill="#3e9cdb" fill-opacity="0.8" stroke="#3e9cdb" stroke-opacity="0.8" stroke-width="1.2"/>
<circle cx="462.80" cy="237.10" r="5.3" fill="#448fd2" fill-opacity="0.8" stroke="#448fd2" stroke-opacity="0.8" stroke-width="1.2"/>
<circle cx="469.60" cy="234.80" r="5.3" fill="#4195d6" fill-opacity="0.8" stroke="#4195d6" stroke-opacity="0.8" stroke-width="1.2"/>
<circle cx="470.20" cy="228.35" r="5.3" fill="#5365b8" fill-opacity="0.8" stroke="#5365b8" stroke-opacity="0.8" stroke-width="1.2"/>
<circle cx="508.50" cy="218.20" r="5.3" fill="#458bd0" fill-opacity="0.8" stroke="#458bd0" stroke-opacity="0.8" stroke-width="1.2"/>
<circle cx="509.80" cy="230.50" r="5.3" fill="#4b7bc6" fill-opacity="0.8" stroke="#4b7bc6" stroke-opacity="0.8" stroke-width="1.2"/>
<circle cx="506.00" cy="242.20" r="5.3" fill="#448ed2" fill-opacity="0.8" stroke="#448ed2" stroke-opacity="0.8" stroke-width="1.2"/>
<circle cx="511.00" cy="229.60" r="5.3" fill="#4390d3" fill-opacity="0.8" stroke="#4390d3" stroke-opacity="0.8" stroke-width="1.2"/>
<circle cx="528.90" cy="218.80" r="5.3" fill="#39aae4" fill-opacity="0.8" stroke="#39aae4" stroke-opacity="0.8" stroke-width="1.2"/>
<circle cx="528.30" cy="231.15" r="5.3" fill="#4196d7" fill-opacity="0.8" stroke="#4196d7" stroke-opacity="0.8" stroke-width="1.2"/>
<circle cx="528.00" cy="242.20" r="5.3" fill="#4391d4" fill-opacity="0.8" stroke="#4391d4" stroke-opacity="0.8" stroke-width="1.2"/>
<circle cx="548.60" cy="227.10" r="5.3" fill="#4391d4" fill-opacity="0.8" stroke="#4391d4" stroke-opacity="0.8" stroke-width="1.2"/>
<circle cx="548.40" cy="239.10" r="5.3" fill="#3ba5e0" fill-opacity="0.8" stroke="#3ba5e0" stroke-opacity="0.8" stroke-width="1.2"/>
<circle cx="567.50" cy="228.15" r="5.3" fill="#4391d4" fill-opacity="0.8" stroke="#4391d4" stroke-opacity="0.8" stroke-width="1.2"/>
<circle cx="566.00" cy="234.00" r="5.3" fill="#38ade5" fill-opacity="0.8" stroke="#38ade5" stroke-opacity="0.8" stroke-width="1.2"/>
<circle cx="574.20" cy="226.95" r="5.3" fill="#3ca2df" fill-opacity="0.8" stroke="#3ca2df" stroke-opacity="0.8" stroke-width="1.2"/>
<circle cx="574.00" cy="228.45" r="5.3" fill="#38aee6" fill-opacity="0.8" stroke="#38aee6" stroke-opacity="0.8" stroke-width="1.2"/>
<circle cx="584.50" cy="229.75" r="5.3" fill="#3e9cdb" fill-opacity="0.8" stroke="#3e9cdb" stroke-opacity="0.8" stroke-width="1.2"/>
<circle cx="652.40" cy="228.50" r="5.3" fill="#4b7bc6" fill-opacity="0.8" stroke="#4b7bc6" stroke-opacity="0.8" stroke-width="1.2"/>
<circle cx="654.10" cy="232.50" r="5.3" fill="#497fc9" fill-opacity="0.8" stroke="#497fc9" stroke-opacity="0.8" stroke-width="1.2"/>
<circle cx="656.70" cy="233.00" r="5.3" fill="#4c77c4" fill-opacity="0.8" stroke="#4c77c4" stroke-opacity="0.8" stroke-width="1.2"/>
<circle cx="658.30" cy="219.45" r="5.3" fill="#4980c9" fill-opacity="0.8" stroke="#4980c9" stroke-opacity="0.8" stroke-width="1.2"/>
<circle cx="655.30" cy="232.95" r="5.3" fill="#4f6fbf" fill-opacity="0.8" stroke="#4f6fbf" stroke-opacity="0.8" stroke-width="1.2"/>
<circle cx="659.60" cy="233.20" r="5.3" fill="#4882cb" fill-opacity="0.8" stroke="#4882cb" stroke-opacity="0.8" stroke-width="1.2"/>
<circle cx="650.50" cy="232.90" r="5.3" fill="#4b7bc6" fill-opacity="0.8" stroke="#4b7bc6" stroke-opacity="0.8" stroke-width="1.2"/>
<circle cx="650.20" cy="234.00" r="5.3" fill="#458bd0" fill-opacity="0.8" stroke="#458bd0" stroke-opacity="0.8" stroke-width="1.2"/>
<circle cx="650.20" cy="225.90" r="5.3" fill="#3aa8e2" fill-opacity="0.8" stroke="#3aa8e2" stroke-opacity="0.8" stroke-width="1.2"/>
<circle cx="657.40" cy="243.80" r="5.3" fill="#38ade5" fill-opacity="0.8" stroke="#38ade5" stroke-opacity="0.8" stroke-width="1.2"/>
<circle cx="653.10" cy="238.00" r="5.3" fill="#4391d4" fill-opacity="0.8" stroke="#4391d4" stroke-opacity="0.8" stroke-width="1.2"/>
<circle cx="655.70" cy="222.00" r="5.3" fill="#458cd1" fill-opacity="0.8" stroke="#458cd1" stroke-opacity="0.8" stroke-width="1.2"/>
</g>
<line x1="72.70" y1="64.10" x2="72.70" y2="414.70" stroke="#000" stroke-width="3.4"/>
<line x1="680.30" y1="64.10" x2="680.30" y2="414.70" stroke="#000" stroke-width="3.4"/>
<line x1="72.70" y1="65.80" x2="601.00" y2="65.80" stroke="#000" stroke-width="3.4"/>
<line x1="616.50" y1="65.80" x2="680.30" y2="65.80" stroke="#000" stroke-width="3.4"/>
<line x1="593.50" y1="72.10" x2="606.50" y2="59.50" stroke="#000" stroke-width="3"/>
<line x1="611.00" y1="72.10" x2="624.00" y2="59.50" stroke="#000" stroke-width="3"/>
<line x1="72.70" y1="413.00" x2="601.00" y2="413.00" stroke="#000" stroke-width="3.4"/>
<line x1="616.50" y1="413.00" x2="680.30" y2="413.00" stroke="#000" stroke-width="3.4"/>
<line x1="593.50" y1="419.30" x2="606.50" y2="406.70" stroke="#000" stroke-width="3"/>
<line x1="611.00" y1="419.30" x2="624.00" y2="406.70" stroke="#000" stroke-width="3"/>
<line x1="72.70" y1="413.00" x2="72.70" y2="405.00" stroke="#000" stroke-width="3.0"/>
<line x1="72.70" y1="65.80" x2="72.70" y2="73.80" stroke="#000" stroke-width="3.0"/>
<line x1="120.05" y1="413.00" x2="120.05" y2="408.40" stroke="#000" stroke-width="3.0"/>
<line x1="120.05" y1="65.80" x2="120.05" y2="70.40" stroke="#000" stroke-width="3.0"/>
<line x1="167.40" y1="413.00" x2="167.40" y2="405.00" stroke="#000" stroke-width="3.0"/>
<line x1="167.40" y1="65.80" x2="167.40" y2="73.80" stroke="#000" stroke-width="3.0"/>
<line x1="214.75" y1="413.00" x2="214.75" y2="408.40" stroke="#000" stroke-width="3.0"/>
<line x1="214.75" y1="65.80" x2="214.75" y2="70.40" stroke="#000" stroke-width="3.0"/>
<line x1="262.10" y1="413.00" x2="262.10" y2="405.00" stroke="#000" stroke-width="3.0"/>
<line x1="262.10" y1="65.80" x2="262.10" y2="73.80" stroke="#000" stroke-width="3.0"/>
<line x1="309.45" y1="413.00" x2="309.45" y2="408.40" stroke="#000" stroke-width="3.0"/>
<line x1="309.45" y1="65.80" x2="309.45" y2="70.40" stroke="#000" stroke-width="3.0"/>
<line x1="356.80" y1="413.00" x2="356.80" y2="405.00" stroke="#000" stroke-width="3.0"/>
<line x1="356.80" y1="65.80" x2="356.80" y2="73.80" stroke="#000" stroke-width="3.0"/>
<line x1="404.15" y1="413.00" x2="404.15" y2="408.40" stroke="#000" stroke-width="3.0"/>
<line x1="404.15" y1="65.80" x2="404.15" y2="70.40" stroke="#000" stroke-width="3.0"/>
<line x1="451.50" y1="413.00" x2="451.50" y2="405.00" stroke="#000" stroke-width="3.0"/>
<line x1="451.50" y1="65.80" x2="451.50" y2="73.80" stroke="#000" stroke-width="3.0"/>
<line x1="498.85" y1="413.00" x2="498.85" y2="408.40" stroke="#000" stroke-width="3.0"/>
<line x1="498.85" y1="65.80" x2="498.85" y2="70.40" stroke="#000" stroke-width="3.0"/>
<line x1="546.21" y1="413.00" x2="546.21" y2="405.00" stroke="#000" stroke-width="3.0"/>
<line x1="546.21" y1="65.80" x2="546.21" y2="73.80" stroke="#000" stroke-width="3.0"/>
<line x1="593.56" y1="413.00" x2="593.56" y2="408.40" stroke="#000" stroke-width="3.0"/>
<line x1="593.56" y1="65.80" x2="593.56" y2="70.40" stroke="#000" stroke-width="3.0"/>
<line x1="648.60" y1="413.00" x2="648.60" y2="405.00" stroke="#000" stroke-width="3.0"/>
<line x1="648.60" y1="65.80" x2="648.60" y2="73.80" stroke="#000" stroke-width="3.0"/>
<line x1="72.70" y1="384.10" x2="77.30" y2="384.10" stroke="#000" stroke-width="3.0"/>
<line x1="680.30" y1="384.10" x2="675.70" y2="384.10" stroke="#000" stroke-width="3.0"/>
<line x1="72.70" y1="355.18" x2="80.70" y2="355.18" stroke="#000" stroke-width="3.0"/>
<line x1="680.30" y1="355.18" x2="672.30" y2="355.18" stroke="#000" stroke-width="3.0"/>
<line x1="72.70" y1="326.26" x2="77.30" y2="326.26" stroke="#000" stroke-width="3.0"/>
<line x1="680.30" y1="326.26" x2="675.70" y2="326.26" stroke="#000" stroke-width="3.0"/>
<line x1="72.70" y1="297.34" x2="80.70" y2="297.34" stroke="#000" stroke-width="3.0"/>
<line x1="680.30" y1="297.34" x2="672.30" y2="297.34" stroke="#000" stroke-width="3.0"/>
<line x1="72.70" y1="268.42" x2="77.30" y2="268.42" stroke="#000" stroke-width="3.0"/>
<line x1="680.30" y1="268.42" x2="675.70" y2="268.42" stroke="#000" stroke-width="3.0"/>
<line x1="72.70" y1="239.50" x2="80.70" y2="239.50" stroke="#000" stroke-width="3.0"/>
<line x1="680.30" y1="239.50" x2="672.30" y2="239.50" stroke="#000" stroke-width="3.0"/>
<line x1="72.70" y1="210.58" x2="77.30" y2="210.58" stroke="#000" stroke-width="3.0"/>
<line x1="680.30" y1="210.58" x2="675.70" y2="210.58" stroke="#000" stroke-width="3.0"/>
<line x1="72.70" y1="181.66" x2="80.70" y2="181.66" stroke="#000" stroke-width="3.0"/>
<line x1="680.30" y1="181.66" x2="672.30" y2="181.66" stroke="#000" stroke-width="3.0"/>
<line x1="72.70" y1="152.74" x2="77.30" y2="152.74" stroke="#000" stroke-width="3.0"/>
<line x1="680.30" y1="152.74" x2="675.70" y2="152.74" stroke="#000" stroke-width="3.0"/>
<line x1="72.70" y1="123.82" x2="80.70" y2="123.82" stroke="#000" stroke-width="3.0"/>
<line x1="680.30" y1="123.82" x2="672.30" y2="123.82" stroke="#000" stroke-width="3.0"/>
<line x1="72.70" y1="94.90" x2="77.30" y2="94.90" stroke="#000" stroke-width="3.0"/>
<line x1="680.30" y1="94.90" x2="675.70" y2="94.90" stroke="#000" stroke-width="3.0"/>
<text x="72.70" y="443.5" font-size="27" text-anchor="middle">0</text>
<text x="167.40" y="443.5" font-size="27" text-anchor="middle">300</text>
<text x="262.10" y="443.5" font-size="27" text-anchor="middle">600</text>
<text x="356.80" y="443.5" font-size="27" text-anchor="middle">900</text>
<text x="451.50" y="443.5" font-size="27" text-anchor="middle">1200</text>
<text x="546.21" y="443.5" font-size="27" text-anchor="middle">1500</text>
<text x="648.60" y="443.5" font-size="27" text-anchor="middle">3100</text>
<text x="61.2" y="422.62" font-size="27" text-anchor="end">−12</text>
<text x="61.2" y="364.78" font-size="27" text-anchor="end">−8</text>
<text x="61.2" y="306.94" font-size="27" text-anchor="end">−4</text>
<text x="61.2" y="249.10" font-size="27" text-anchor="end">0</text>
<text x="61.2" y="191.26" font-size="27" text-anchor="end">4</text>
<text x="61.2" y="133.42" font-size="27" text-anchor="end">8</text>
<text x="61.2" y="75.58" font-size="27" text-anchor="end">12</text>
<text transform="translate(86.80,101.20) scale(1.0169,1)" x="-1.86" y="0" font-size="30">(a)</text>
<text transform="translate(107.90,475.70) scale(0.9983,1)" x="-2.17" y="0" font-size="26.5">Reference Γ-phonon frequencies,</text>
<text transform="translate(506.03,476.15) scale(0.9903,0.9659)" x="0" y="0" font-size="27" font-style="italic">ω</text>
<text transform="translate(527.76,480.31) scale(1.1121,1.0069)" x="0" y="0" font-size="19.5">ref</text>
<text transform="translate(558.89,474.39) scale(0.8800,1.0287)" x="0" y="0" font-size="24">(</text>
<text transform="translate(568.62,476.44) scale(1.1558,1.0250)" x="0" y="0" font-size="26">cm</text>
<text transform="translate(609.73,467.80) scale(1.1375,1.3289)" x="0" y="0" font-size="19">−</text>
<text transform="translate(624.62,466.10) scale(0.9522,0.9410)" x="0" y="0" font-size="19">1</text>
<text transform="translate(638.39,474.39) scale(0.7858,1.0287)" x="0" y="0" font-size="24">)</text>
<g transform="translate(23.8,337) rotate(-90)">
<text transform="translate(-0.59,0.03) scale(1.0058,1.0199)" x="0" y="0" font-size="27" font-style="italic">ω</text>
<text transform="translate(21.10,3.72) scale(1.0842,0.9510)" x="0" y="0" font-size="19.5">ref</text>
<text transform="translate(53.71,0.83) scale(1.2429,1.0790)" x="0" y="0" font-size="26">−</text>
<text transform="translate(80.26,-0.26) scale(0.9488,0.9997)" x="0" y="0" font-size="27" font-style="italic">ω</text>
<line x1="88.3" y1="-18.9" x2="96" y2="-18.9" stroke="#000" stroke-width="1.9"/>
<text transform="translate(106.40,-2.18) scale(1.0058,1.0421)" x="0" y="0" font-size="24">(</text>
<text transform="translate(115.71,-0.95) scale(1.1652,1.0039)" x="0" y="0" font-size="26">cm</text>
<text transform="translate(157.37,-7.29) scale(1.2025,1.4027)" x="0" y="0" font-size="19">−</text>
<text transform="translate(172.50,-10.30) scale(0.9644,0.9945)" x="0" y="0" font-size="19">1</text>
<text transform="translate(186.57,-2.18) scale(0.8958,1.0421)" x="0" y="0" font-size="24">)</text>
</g>
<clipPath id="cp0"><rect x="72.5" y="507.0" width="189.2" height="310.20000000000005"/></clipPath>
<g clip-path="url(#cp0)">
<ellipse cx="104.0" cy="737.0" rx="3.4" ry="23.0" fill="#e49886"/>
<path d="M103.00,716.00 L103.22,718.18 L103.44,720.21 L103.66,721.95 L103.88,723.26 L104.10,724.00 L104.32,724.29 L104.53,724.22 L104.76,723.62 L105.01,722.27 L105.30,720.00 L105.65,716.59 L106.06,712.18 L106.48,707.06 L106.91,701.57 L107.30,696.00 L107.66,690.28 L108.01,684.20 L108.34,677.88 L108.67,671.44 L109.00,665.00 L109.33,658.26 L109.67,651.13 L109.99,644.07Z" fill="#e49886"/>
<path d="M151.50,700.00 C151.67,697.67 152.00,689.50 152.50,686.00 C153.00,682.50 153.83,680.45 154.50,679.00 C155.17,677.55 155.83,677.30 156.50,677.30 C157.17,677.30 157.83,677.55 158.50,679.00 C159.17,680.45 159.92,683.00 160.50,686.00 C161.08,689.00 161.75,692.67 162.00,697.00 C162.25,701.33 162.25,707.50 162.00,712.00 C161.75,716.50 161.17,721.00 160.50,724.00 C159.83,727.00 158.92,729.50 158.00,730.00 C157.08,730.50 155.92,729.33 155.00,727.00 C154.08,724.67 153.08,720.50 152.50,716.00 C151.92,711.50 151.67,702.67 151.50,700.00Z" fill="#e49886"/>
<path d="M163.00,708.00 C163.33,708.67 164.25,709.67 165.00,712.00 C165.75,714.33 166.75,719.00 167.50,722.00 C168.25,725.00 169.25,727.50 169.50,730.00 C169.75,732.50 169.58,735.67 169.00,737.00 C168.42,738.33 166.92,739.17 166.00,738.00 C165.08,736.83 164.08,733.33 163.50,730.00 C162.92,726.67 162.58,721.67 162.50,718.00 C162.42,714.33 162.92,709.67 163.00,708.00Z" fill="#e49886"/>
<ellipse cx="173.3" cy="727.0" rx="2.4" ry="10.5" fill="#e49886"/>
<path d="M230.50,700.00 C230.67,698.33 230.92,692.83 231.50,690.00 C232.08,687.17 233.08,684.80 234.00,683.00 C234.92,681.20 236.08,679.53 237.00,679.20 C237.92,678.87 238.92,679.20 239.50,681.00 C240.08,682.80 240.42,686.17 240.50,690.00 C240.58,693.83 240.33,700.00 240.00,704.00 C239.67,708.00 239.17,711.08 238.50,714.00 C237.83,716.92 236.75,720.08 236.00,721.50 C235.25,722.92 234.62,723.08 234.00,722.50 C233.38,721.92 232.80,720.08 232.30,718.00 C231.80,715.92 231.30,713.00 231.00,710.00 C230.70,707.00 230.58,701.67 230.50,700.00Z" fill="#e49886"/>
<ellipse cx="88.0" cy="804.0" rx="5.0" ry="3.2" fill="#e49886"/>
<path d="M121.00,800.00 C121.50,800.50 122.50,802.17 124.00,803.00 C125.50,803.83 127.67,804.63 130.00,805.00 C132.33,805.37 135.67,805.03 138.00,805.20 C140.33,805.37 142.50,806.20 144.00,806.00 C145.50,805.80 146.67,805.00 147.00,804.00 C147.33,803.00 148.00,800.25 146.00,800.00 C144.00,799.75 139.17,802.50 135.00,802.50 C130.83,802.50 123.33,800.42 121.00,800.00Z" fill="#e49886"/>
<ellipse cx="207.0" cy="801.0" rx="7.0" ry="2.6" fill="#e49886"/>
<path d="M86.82,791.38 L87.33,789.87 L87.75,788.37 L88.12,786.78 L88.50,785.00 L88.85,783.31 L89.16,781.78 L89.44,779.98 L89.75,777.53 L90.10,774.00 L90.52,769.10 L90.99,763.09 L91.48,756.43 L91.95,749.58 L92.40,743.00 L92.81,736.46 L93.21,729.65 L93.59,722.91 L93.95,716.58 L94.30,711.00 L94.63,706.18 L94.94,701.89 L95.23,698.11 L95.52,694.82 L95.80,692.00 L96.07,689.67 L96.33,687.86 L97.83,687.86 L97.57,689.67 L97.30,692.00 L97.02,694.82 L96.73,698.11 L96.44,701.89 L96.13,706.18 L95.80,711.00 L95.45,716.58 L95.09,722.91 L94.71,729.65 L94.31,736.46 L93.90,743.00 L93.45,749.58 L92.98,756.43 L92.49,763.09 L92.02,769.10 L91.60,774.00 L91.25,777.53 L90.94,779.98 L90.66,781.78 L90.35,783.31 L90.00,785.00 L89.62,786.78 L89.25,788.37 L88.83,789.87 L88.32,791.38Z" fill="#e49886"/>
<path d="M107.85,716.59 L108.26,712.18 L108.68,707.06 L109.11,701.57 L109.50,696.00 L109.86,690.28 L110.21,684.20 L110.54,677.88 L110.87,671.44 L111.20,665.00 L111.53,658.26 L111.87,651.13 L112.19,644.07 L112.51,637.54 L112.80,632.00 L113.07,627.50 L113.33,623.75 L113.57,620.65 L113.79,618.10 L114.00,616.00 L114.18,614.47 L114.34,613.58 L114.48,613.14 L112.28,613.14 L112.14,613.58 L111.98,614.47 L111.80,616.00 L111.59,618.10 L111.37,620.65 L111.13,623.75 L110.87,627.50 L110.60,632.00 L110.31,637.54 L109.99,644.07 L109.67,651.13 L109.33,658.26 L109.00,665.00 L108.67,671.44 L108.34,677.88 L108.01,684.20 L107.66,690.28 L107.30,696.00 L106.91,701.57 L106.48,707.06 L106.06,712.18 L105.65,716.59Z" fill="#e49886"/>
<path d="M115.16,613.58 L115.37,614.47 L115.60,616.00 L115.86,618.18 L116.14,620.89 L116.43,624.11 L116.72,627.82 L117.00,632.00 L117.27,636.77 L117.53,642.14 L117.79,647.94 L118.05,653.95 L118.30,660.00 L118.53,666.10 L118.73,672.37 L118.95,678.79 L119.19,685.34 L119.50,692.00 L119.89,698.74 L120.34,705.59 L120.82,712.57 L121.32,719.70 L121.80,727.00 L122.26,734.74 L122.72,742.89 L123.18,751.07 L123.67,758.90 L124.20,766.00 L124.77,772.47 L125.38,778.58 L126.01,784.14 L126.66,789.01 L127.30,793.00 L127.95,795.93 L128.60,797.90 L129.26,799.22 L129.93,800.15 L127.93,800.15 L127.26,799.22 L126.60,797.90 L125.95,795.93 L125.30,793.00 L124.66,789.01 L124.01,784.14 L123.38,778.58 L122.77,772.47 L122.20,766.00 L121.67,758.90 L121.18,751.07 L120.72,742.89 L120.26,734.74 L119.80,727.00 L119.32,719.70 L118.82,712.57 L118.34,705.59 L117.89,698.74 L117.50,692.00 L117.19,685.34 L116.95,678.79 L116.73,672.37 L116.53,666.10 L116.30,660.00 L116.05,653.95 L115.79,647.94 L115.53,642.14 L115.27,636.77 L115.00,632.00 L114.72,627.82 L114.43,624.11 L114.14,620.89 L113.86,618.18 L113.60,616.00 L113.37,614.47 L113.16,613.58Z" fill="#e49886"/>
<path d="M139.00,801.00 L139.52,800.61 L140.02,800.18 L140.49,799.66 L140.95,798.95 L141.40,798.00 L141.85,796.81 L142.29,795.42 L142.72,793.84 L143.12,792.03 L143.50,790.00 L143.84,787.70 L144.14,785.14 L144.43,782.38 L144.71,779.48 L145.00,776.50 L145.30,773.44 L145.61,770.26 L145.92,766.95 L146.22,763.53 L146.50,760.00 L146.74,756.57 L146.95,753.24 L147.16,749.68 L147.40,745.58 L147.70,740.60 L148.09,734.09 L148.55,726.26 L149.04,718.11 L149.50,710.62 L149.90,704.80 L150.22,700.89 L150.50,698.24 L150.74,696.46 L150.97,695.18 L151.20,694.00 L151.41,693.03 L151.61,692.53 L151.79,692.33 L151.99,692.31 L153.99,692.31 L153.79,692.33 L153.61,692.53 L153.41,693.03 L153.20,694.00 L152.97,695.18 L152.74,696.46 L152.50,698.24 L152.22,700.89 L151.90,704.80 L151.50,710.62 L151.04,718.11 L150.55,726.26 L150.09,734.09 L149.70,740.60 L149.40,745.58 L149.16,749.68 L148.95,753.24 L148.74,756.57 L148.50,760.00 L148.22,763.53 L147.92,766.95 L147.61,770.26 L147.30,773.44 L147.00,776.50 L146.71,779.48 L146.43,782.38 L146.14,785.14 L145.84,787.70 L145.50,790.00 L145.12,792.03 L144.72,793.84 L144.29,795.42 L143.85,796.81 L143.40,798.00 L142.95,798.95 L142.49,799.66 L142.02,800.18 L141.52,800.61 L141.00,801.00Z" fill="#e49886"/>
<path d="M175.54,735.58 L175.82,736.98 L176.11,738.62 L176.40,740.60 L176.70,743.02 L177.01,745.79 L177.32,748.79 L177.65,751.90 L178.00,755.00 L178.38,758.19 L178.80,761.57 L179.22,764.95 L179.63,768.19 L180.00,771.10 L180.32,773.62 L180.61,775.85 L180.88,777.91 L181.17,779.92 L181.50,782.00 L181.88,784.21 L182.28,786.49 L182.71,788.71 L183.15,790.79 L183.60,792.60 L184.07,794.13 L184.55,795.43 L185.05,796.57 L185.53,797.57 L186.00,798.50 L186.32,799.32 L186.51,800.00 L186.75,800.59 L187.22,801.11 L188.10,801.60 L185.60,801.60 L184.72,801.11 L184.25,800.59 L184.01,800.00 L183.82,799.32 L183.50,798.50 L183.03,797.57 L182.55,796.57 L182.05,795.43 L181.57,794.13 L181.10,792.60 L180.65,790.79 L180.21,788.71 L179.78,786.49 L179.38,784.21 L179.00,782.00 L178.67,779.92 L178.38,777.91 L178.11,775.85 L177.82,773.62 L177.50,771.10 L177.13,768.19 L176.72,764.95 L176.30,761.57 L175.88,758.19 L175.50,755.00 L175.15,751.90 L174.82,748.79 L174.51,745.79 L174.20,743.02 L173.90,740.60 L173.61,738.62 L173.32,736.98 L173.04,735.58Z" fill="#e49886"/>
<path d="M215.40,797.10 L215.85,796.28 L216.29,795.33 L216.72,794.28 L217.12,793.16 L217.50,792.00 L217.84,790.92 L218.15,789.89 L218.44,788.75 L218.72,787.31 L219.00,785.40 L219.27,782.96 L219.53,780.11 L219.78,776.94 L220.04,773.54 L220.30,770.00 L220.58,766.28 L220.86,762.31 L221.14,758.16 L221.42,753.90 L221.70,749.60 L221.96,745.21 L222.22,740.70 L222.48,736.12 L222.74,731.53 L223.00,727.00 L223.28,722.51 L223.56,718.02 L223.85,713.56 L224.13,709.14 L224.40,704.80 L224.66,700.35 L224.91,695.76 L225.16,691.33 L225.39,687.32 L225.60,684.00 L225.79,681.49 L225.96,679.62 L226.11,678.20 L226.26,677.05 L226.40,676.00 L226.53,675.07 L226.64,674.37 L226.76,673.88 L226.87,673.56 L227.00,673.40 L229.00,673.40 L228.87,673.56 L228.76,673.88 L228.64,674.37 L228.53,675.07 L228.40,676.00 L228.26,677.05 L228.11,678.20 L227.96,679.62 L227.79,681.49 L227.60,684.00 L227.39,687.32 L227.16,691.33 L226.91,695.76 L226.66,700.35 L226.40,704.80 L226.13,709.14 L225.85,713.56 L225.56,718.02 L225.28,722.51 L225.00,727.00 L224.74,731.53 L224.48,736.12 L224.22,740.70 L223.96,745.21 L223.70,749.60 L223.42,753.90 L223.14,758.16 L222.86,762.31 L222.58,766.28 L222.30,770.00 L222.04,773.54 L221.78,776.94 L221.53,780.11 L221.27,782.96 L221.00,785.40 L220.72,787.31 L220.44,788.75 L220.15,789.89 L219.84,790.92 L219.50,792.00 L219.12,793.16 L218.72,794.28 L218.29,795.33 L217.85,796.28 L217.40,797.10Z" fill="#e49886"/>
<path d="M240.19,691.06 L240.45,692.70 L240.71,694.67 L241.00,697.00 L241.32,699.75 L241.67,702.90 L242.03,706.36 L242.38,710.02 L242.70,713.80 L242.98,717.72 L243.24,721.85 L243.49,726.14 L243.74,730.54 L244.00,735.00 L244.27,739.65 L244.54,744.52 L244.82,749.42 L245.11,754.17 L245.40,758.60 L245.70,762.69 L246.01,766.56 L246.32,770.22 L246.65,773.70 L247.00,777.00 L247.37,780.16 L247.75,783.17 L248.14,785.98 L248.56,788.54 L249.00,790.80 L249.46,792.72 L249.95,794.33 L250.45,795.70 L250.97,796.90 L251.50,798.00 L252.01,798.99 L252.51,799.80 L253.03,800.49 L253.61,801.08 L251.61,801.08 L251.03,800.49 L250.51,799.80 L250.01,798.99 L249.50,798.00 L248.97,796.90 L248.45,795.70 L247.95,794.33 L247.46,792.72 L247.00,790.80 L246.56,788.54 L246.14,785.98 L245.75,783.17 L245.37,780.16 L245.00,777.00 L244.65,773.70 L244.32,770.22 L244.01,766.56 L243.70,762.69 L243.40,758.60 L243.11,754.17 L242.82,749.42 L242.54,744.52 L242.27,739.65 L242.00,735.00 L241.74,730.54 L241.49,726.14 L241.24,721.85 L240.98,717.72 L240.70,713.80 L240.38,710.02 L240.03,706.36 L239.67,702.90 L239.32,699.75 L239.00,697.00 L238.71,694.67 L238.45,692.70 L238.19,691.06Z" fill="#e49886"/>
<path d="M72.50,804.50 C73.42,804.42 76.25,804.42 78.00,804.00 C79.75,803.58 81.38,803.83 83.00,802.00 C84.62,800.17 86.53,795.83 87.70,793.00 C88.87,790.17 89.35,788.17 90.00,785.00 C90.65,781.83 90.95,781.00 91.60,774.00 C92.25,767.00 93.20,753.50 93.90,743.00 C94.60,732.50 95.23,719.50 95.80,711.00 C96.37,702.50 96.83,696.33 97.30,692.00 C97.77,687.67 98.15,685.67 98.60,685.00 C99.05,684.33 99.47,685.17 100.00,688.00 C100.53,690.83 101.30,697.33 101.80,702.00 C102.30,706.67 102.62,712.33 103.00,716.00 C103.38,719.67 103.72,723.33 104.10,724.00 C104.48,724.67 104.77,724.67 105.30,720.00 C105.83,715.33 106.68,705.17 107.30,696.00 C107.92,686.83 108.45,675.67 109.00,665.00 C109.55,654.33 110.13,640.17 110.60,632.00 C111.07,623.83 111.47,619.17 111.80,616.00 C112.13,612.83 112.30,613.00 112.60,613.00 C112.90,613.00 113.20,612.83 113.60,616.00 C114.00,619.17 114.55,624.67 115.00,632.00 C115.45,639.33 115.88,650.00 116.30,660.00 C116.72,670.00 116.92,680.83 117.50,692.00 C118.08,703.17 119.02,714.67 119.80,727.00 C120.58,739.33 121.28,755.00 122.20,766.00 C123.12,777.00 124.23,787.17 125.30,793.00 C126.37,798.83 127.48,799.50 128.60,801.00 C129.72,802.50 130.43,801.83 132.00,802.00 C133.57,802.17 136.50,802.17 138.00,802.00 C139.50,801.83 140.10,801.67 141.00,801.00 C141.90,800.33 142.65,799.83 143.40,798.00 C144.15,796.17 144.90,793.58 145.50,790.00 C146.10,786.42 146.50,781.50 147.00,776.50 C147.50,771.50 148.05,765.98 148.50,760.00 C148.95,754.02 149.13,749.80 149.70,740.60 C150.27,731.40 151.32,712.57 151.90,704.80 C152.48,697.03 152.82,696.08 153.20,694.00 C153.58,691.92 153.82,692.38 154.20,692.30 C154.58,692.22 154.90,692.62 155.50,693.50 C156.10,694.38 157.13,697.18 157.80,697.60 C158.47,698.02 158.90,696.15 159.50,696.00 C160.10,695.85 160.82,695.70 161.40,696.70 C161.98,697.70 162.42,699.45 163.00,702.00 C163.58,704.55 164.32,708.67 164.90,712.00 C165.48,715.33 166.05,719.32 166.50,722.00 C166.95,724.68 167.10,727.43 167.60,728.10 C168.10,728.77 168.90,726.15 169.50,726.00 C170.10,725.85 170.70,726.03 171.20,727.20 C171.70,728.37 172.05,730.77 172.50,733.00 C172.95,735.23 173.40,736.93 173.90,740.60 C174.40,744.27 174.90,749.92 175.50,755.00 C176.10,760.08 176.92,766.60 177.50,771.10 C178.08,775.60 178.40,778.42 179.00,782.00 C179.60,785.58 180.35,789.85 181.10,792.60 C181.85,795.35 182.75,797.00 183.50,798.50 C184.25,800.00 183.68,800.78 185.60,801.60 C187.52,802.42 191.77,803.25 195.00,803.40 C198.23,803.55 202.32,802.80 205.00,802.50 C207.68,802.20 209.43,802.10 211.10,801.60 C212.77,801.10 213.95,800.25 215.00,799.50 C216.05,798.75 216.65,798.35 217.40,797.10 C218.15,795.85 218.90,793.95 219.50,792.00 C220.10,790.05 220.53,789.07 221.00,785.40 C221.47,781.73 221.85,775.97 222.30,770.00 C222.75,764.03 223.25,756.77 223.70,749.60 C224.15,742.43 224.55,734.47 225.00,727.00 C225.45,719.53 225.97,711.97 226.40,704.80 C226.83,697.63 227.27,688.80 227.60,684.00 C227.93,679.20 228.17,677.77 228.40,676.00 C228.63,674.23 228.77,673.57 229.00,673.40 C229.23,673.23 229.47,673.73 229.80,675.00 C230.13,676.27 230.55,678.67 231.00,681.00 C231.45,683.33 232.08,687.12 232.50,689.00 C232.92,690.88 233.08,691.97 233.50,692.30 C233.92,692.63 234.50,691.72 235.00,691.00 C235.50,690.28 236.05,688.38 236.50,688.00 C236.95,687.62 237.28,687.20 237.70,688.70 C238.12,690.20 238.50,692.82 239.00,697.00 C239.50,701.18 240.20,707.47 240.70,713.80 C241.20,720.13 241.55,727.53 242.00,735.00 C242.45,742.47 242.90,751.60 243.40,758.60 C243.90,765.60 244.40,771.63 245.00,777.00 C245.60,782.37 246.25,787.30 247.00,790.80 C247.75,794.30 248.62,796.20 249.50,798.00 C250.38,799.80 251.05,800.77 252.30,801.60 C253.55,802.43 255.43,802.70 257.00,803.00 C258.57,803.30 260.92,803.33 261.70,803.40" fill="none" stroke="#e49886" stroke-width="5.4" stroke-linejoin="round"/>
<path d="M72.50,804.50 C73.42,804.42 76.25,804.42 78.00,804.00 C79.75,803.58 81.38,803.83 83.00,802.00 C84.62,800.17 86.53,795.83 87.70,793.00 C88.87,790.17 89.35,788.17 90.00,785.00 C90.65,781.83 90.95,781.00 91.60,774.00 C92.25,767.00 93.20,753.50 93.90,743.00 C94.60,732.50 95.23,719.50 95.80,711.00 C96.37,702.50 96.83,696.33 97.30,692.00 C97.77,687.67 98.15,685.67 98.60,685.00 C99.05,684.33 99.47,685.17 100.00,688.00 C100.53,690.83 101.30,697.33 101.80,702.00 C102.30,706.67 102.62,712.33 103.00,716.00 C103.38,719.67 103.72,723.33 104.10,724.00 C104.48,724.67 104.77,724.67 105.30,720.00 C105.83,715.33 106.68,705.17 107.30,696.00 C107.92,686.83 108.45,675.67 109.00,665.00 C109.55,654.33 110.13,640.17 110.60,632.00 C111.07,623.83 111.47,619.17 111.80,616.00 C112.13,612.83 112.30,613.00 112.60,613.00 C112.90,613.00 113.20,612.83 113.60,616.00 C114.00,619.17 114.55,624.67 115.00,632.00 C115.45,639.33 115.88,650.00 116.30,660.00 C116.72,670.00 116.92,680.83 117.50,692.00 C118.08,703.17 119.02,714.67 119.80,727.00 C120.58,739.33 121.28,755.00 122.20,766.00 C123.12,777.00 124.23,787.17 125.30,793.00 C126.37,798.83 127.48,799.50 128.60,801.00 C129.72,802.50 130.43,801.83 132.00,802.00 C133.57,802.17 136.50,802.17 138.00,802.00 C139.50,801.83 140.10,801.67 141.00,801.00 C141.90,800.33 142.65,799.83 143.40,798.00 C144.15,796.17 144.90,793.58 145.50,790.00 C146.10,786.42 146.50,781.50 147.00,776.50 C147.50,771.50 148.05,765.98 148.50,760.00 C148.95,754.02 149.13,749.80 149.70,740.60 C150.27,731.40 151.32,712.57 151.90,704.80 C152.48,697.03 152.82,696.08 153.20,694.00 C153.58,691.92 153.82,692.38 154.20,692.30 C154.58,692.22 154.90,692.62 155.50,693.50 C156.10,694.38 157.13,697.18 157.80,697.60 C158.47,698.02 158.90,696.15 159.50,696.00 C160.10,695.85 160.82,695.70 161.40,696.70 C161.98,697.70 162.42,699.45 163.00,702.00 C163.58,704.55 164.32,708.67 164.90,712.00 C165.48,715.33 166.05,719.32 166.50,722.00 C166.95,724.68 167.10,727.43 167.60,728.10 C168.10,728.77 168.90,726.15 169.50,726.00 C170.10,725.85 170.70,726.03 171.20,727.20 C171.70,728.37 172.05,730.77 172.50,733.00 C172.95,735.23 173.40,736.93 173.90,740.60 C174.40,744.27 174.90,749.92 175.50,755.00 C176.10,760.08 176.92,766.60 177.50,771.10 C178.08,775.60 178.40,778.42 179.00,782.00 C179.60,785.58 180.35,789.85 181.10,792.60 C181.85,795.35 182.75,797.00 183.50,798.50 C184.25,800.00 183.68,800.78 185.60,801.60 C187.52,802.42 191.77,803.25 195.00,803.40 C198.23,803.55 202.32,802.80 205.00,802.50 C207.68,802.20 209.43,802.10 211.10,801.60 C212.77,801.10 213.95,800.25 215.00,799.50 C216.05,798.75 216.65,798.35 217.40,797.10 C218.15,795.85 218.90,793.95 219.50,792.00 C220.10,790.05 220.53,789.07 221.00,785.40 C221.47,781.73 221.85,775.97 222.30,770.00 C222.75,764.03 223.25,756.77 223.70,749.60 C224.15,742.43 224.55,734.47 225.00,727.00 C225.45,719.53 225.97,711.97 226.40,704.80 C226.83,697.63 227.27,688.80 227.60,684.00 C227.93,679.20 228.17,677.77 228.40,676.00 C228.63,674.23 228.77,673.57 229.00,673.40 C229.23,673.23 229.47,673.73 229.80,675.00 C230.13,676.27 230.55,678.67 231.00,681.00 C231.45,683.33 232.08,687.12 232.50,689.00 C232.92,690.88 233.08,691.97 233.50,692.30 C233.92,692.63 234.50,691.72 235.00,691.00 C235.50,690.28 236.05,688.38 236.50,688.00 C236.95,687.62 237.28,687.20 237.70,688.70 C238.12,690.20 238.50,692.82 239.00,697.00 C239.50,701.18 240.20,707.47 240.70,713.80 C241.20,720.13 241.55,727.53 242.00,735.00 C242.45,742.47 242.90,751.60 243.40,758.60 C243.90,765.60 244.40,771.63 245.00,777.00 C245.60,782.37 246.25,787.30 247.00,790.80 C247.75,794.30 248.62,796.20 249.50,798.00 C250.38,799.80 251.05,800.77 252.30,801.60 C253.55,802.43 255.43,802.70 257.00,803.00 C258.57,803.30 260.92,803.33 261.70,803.40" fill="none" stroke="#000" stroke-width="3.0" stroke-linejoin="round"/>
</g>
<rect x="72.5" y="507.0" width="189.2" height="310.20000000000005" fill="none" stroke="#000" stroke-width="3.4"/>
<line x1="94.76" y1="817.20" x2="94.76" y2="809.20" stroke="#000" stroke-width="3.0"/>
<line x1="94.76" y1="507.00" x2="94.76" y2="515.00" stroke="#000" stroke-width="3.0"/>
<text x="94.76" y="847.5" font-size="27" text-anchor="middle">50</text>
<line x1="206.05" y1="817.20" x2="206.05" y2="809.20" stroke="#000" stroke-width="3.0"/>
<line x1="206.05" y1="507.00" x2="206.05" y2="515.00" stroke="#000" stroke-width="3.0"/>
<text x="206.05" y="847.5" font-size="27" text-anchor="middle">100</text>
<line x1="150.41" y1="817.20" x2="150.41" y2="812.60" stroke="#000" stroke-width="3.0"/>
<line x1="150.41" y1="507.00" x2="150.41" y2="511.60" stroke="#000" stroke-width="3.0"/>
<clipPath id="cp1"><rect x="272.5" y="507.0" width="104.0" height="310.20000000000005"/></clipPath>
<g clip-path="url(#cp1)">
<path d="M276.00,809.50 C276.33,808.42 277.25,805.42 278.00,803.00 C278.75,800.58 279.67,797.50 280.50,795.00 C281.33,792.50 282.17,789.62 283.00,788.00 C283.83,786.38 284.67,785.55 285.50,785.30 C286.33,785.05 287.17,785.72 288.00,786.50 C288.83,787.28 289.67,788.42 290.50,790.00 C291.33,791.58 292.25,793.50 293.00,796.00 C293.75,798.50 294.83,802.72 295.00,805.00 C295.17,807.28 295.67,808.87 294.00,809.70 C292.33,810.53 288.00,810.03 285.00,810.00 C282.00,809.97 277.50,809.58 276.00,809.50Z" fill="#e49886"/>
<path d="M306,745 L307,775 L308,800 L309.5,809.7 L316.2,809.7 L317.6,800 L318.6,775 L319.6,745 L317.2,745 L312.5,757 L308.6,745Z" fill="#e49886"/>
<path d="M321.50,708.00 C321.63,705.83 321.92,699.17 322.30,695.00 C322.68,690.83 323.22,686.17 323.80,683.00 C324.38,679.83 325.18,676.50 325.80,676.00 C326.42,675.50 327.22,676.83 327.50,680.00 C327.78,683.17 327.75,690.83 327.50,695.00 C327.25,699.17 326.58,702.50 326.00,705.00 C325.42,707.50 324.75,709.50 324.00,710.00 C323.25,710.50 321.92,708.33 321.50,708.00Z" fill="#e49886"/>
<path d="M337.50,806.00 C337.83,804.17 338.67,798.17 339.50,795.00 C340.33,791.83 341.42,789.50 342.50,787.00 C343.58,784.50 344.83,782.50 346.00,780.00 C347.17,777.50 348.42,773.95 349.50,772.00 C350.58,770.05 351.58,768.88 352.50,768.30 C353.42,767.72 354.17,767.72 355.00,768.50 C355.83,769.28 356.67,770.92 357.50,773.00 C358.33,775.08 359.17,778.17 360.00,781.00 C360.83,783.83 361.67,787.17 362.50,790.00 C363.33,792.83 364.08,795.75 365.00,798.00 C365.92,800.25 367.83,802.08 368.00,803.50 C368.17,804.92 368.67,805.83 366.00,806.50 C363.33,807.17 356.75,807.58 352.00,807.50 C347.25,807.42 339.92,806.25 337.50,806.00Z" fill="#e49886"/>
<ellipse cx="341.0" cy="806.0" rx="3.5" ry="3.2" fill="#e49886"/>
<path d="M305.66,614.35 L305.87,617.16 L306.10,620.90 L306.35,625.73 L306.63,631.48 L306.91,637.93 L307.21,644.84 L307.50,652.00 L307.79,659.68 L308.09,668.02 L308.40,676.63 L308.70,685.09 L309.00,693.00 L309.29,700.31 L309.58,707.28 L309.87,714.00 L310.17,720.54 L310.50,727.00 L310.87,733.47 L311.27,739.89 L311.68,746.12 L312.06,752.00 L312.40,757.40 L312.67,762.29 L312.89,766.77 L313.08,770.86 L313.28,774.60 L313.50,778.00 L313.75,781.20 L314.01,784.20 L314.27,786.77 L311.77,786.77 L311.51,784.20 L311.25,781.20 L311.00,778.00 L310.78,774.60 L310.58,770.86 L310.39,766.77 L310.17,762.29 L309.90,757.40 L309.56,752.00 L309.18,746.12 L308.77,739.89 L308.37,733.47 L308.00,727.00 L307.67,720.54 L307.37,714.00 L307.08,707.28 L306.79,700.31 L306.50,693.00 L306.20,685.09 L305.90,676.63 L305.59,668.02 L305.29,659.68 L305.00,652.00 L304.71,644.84 L304.41,637.93 L304.13,631.48 L303.85,625.73 L303.60,620.90 L303.37,617.16 L303.16,614.35Z" fill="#e49886"/>
<path d="M310.06,789.90 L310.32,789.14 L310.57,787.76 L310.83,785.97 L311.10,784.00 L311.37,781.75 L311.64,779.06 L311.92,776.09 L312.21,773.02 L312.50,770.00 L312.80,767.16 L313.11,764.38 L313.43,761.49 L313.76,758.29 L314.10,754.60 L314.47,750.13 L314.85,745.01 L315.25,739.66 L315.63,734.52 L316.00,730.00 L316.33,726.32 L316.63,723.18 L316.93,720.28 L317.25,717.32 L317.60,714.00 L318.00,710.08 L318.44,705.77 L318.89,701.40 L319.35,697.33 L319.80,693.90 L320.24,691.24 L320.68,689.11 L321.11,687.33 L323.61,687.33 L323.18,689.11 L322.74,691.24 L322.30,693.90 L321.85,697.33 L321.39,701.40 L320.94,705.77 L320.50,710.08 L320.10,714.00 L319.75,717.32 L319.43,720.28 L319.13,723.18 L318.83,726.32 L318.50,730.00 L318.13,734.52 L317.75,739.66 L317.35,745.01 L316.97,750.13 L316.60,754.60 L316.26,758.29 L315.93,761.49 L315.61,764.38 L315.30,767.16 L315.00,770.00 L314.71,773.02 L314.42,776.09 L314.14,779.06 L313.87,781.75 L313.60,784.00 L313.33,785.97 L313.07,787.76 L312.82,789.14 L312.56,789.90Z" fill="#e49886"/>
<path d="M332.72,662.83 L332.97,666.63 L333.23,670.82 L333.50,675.00 L333.78,679.29 L334.07,683.98 L334.36,688.86 L334.64,693.73 L334.90,698.40 L335.14,702.81 L335.36,707.10 L335.57,711.34 L335.78,715.61 L336.00,720.00 L336.22,724.50 L336.43,729.05 L336.64,733.66 L336.86,738.34 L337.10,743.10 L337.36,748.04 L337.64,753.17 L337.93,758.31 L338.22,763.31 L338.50,768.00 L338.76,772.46 L339.02,776.79 L339.27,780.89 L339.53,784.63 L339.80,787.90 L340.09,790.66 L340.39,792.97 L340.70,794.92 L341.00,796.57 L341.30,798.00 L341.58,799.16 L341.85,800.01 L342.12,800.60 L342.40,801.01 L339.90,801.01 L339.62,800.60 L339.35,800.01 L339.08,799.16 L338.80,798.00 L338.50,796.57 L338.20,794.92 L337.89,792.97 L337.59,790.66 L337.30,787.90 L337.03,784.63 L336.77,780.89 L336.52,776.79 L336.26,772.46 L336.00,768.00 L335.72,763.31 L335.43,758.31 L335.14,753.17 L334.86,748.04 L334.60,743.10 L334.36,738.34 L334.14,733.66 L333.93,729.05 L333.72,724.50 L333.50,720.00 L333.28,715.61 L333.07,711.34 L332.86,707.10 L332.64,702.81 L332.40,698.40 L332.14,693.73 L331.86,688.86 L331.57,683.98 L331.28,679.29 L331.00,675.00 L330.73,670.82 L330.47,666.63 L330.22,662.83Z" fill="#e49886"/>
<path d="M272.50,803.80 C273.42,803.67 276.05,803.65 278.00,803.00 C279.95,802.35 282.62,801.07 284.20,799.90 C285.78,798.73 286.43,797.93 287.50,796.00 C288.57,794.07 289.77,792.63 290.60,788.30 C291.43,783.97 291.68,779.45 292.50,770.00 C293.32,760.55 294.72,744.93 295.50,731.60 C296.28,718.27 296.70,702.87 297.20,690.00 C297.70,677.13 298.03,665.07 298.50,654.40 C298.97,643.73 299.60,633.30 300.00,626.00 C300.40,618.70 300.60,614.02 300.90,610.60 C301.20,607.18 301.52,605.77 301.80,605.50 C302.08,605.23 302.30,606.43 302.60,609.00 C302.90,611.57 303.20,613.73 303.60,620.90 C304.00,628.07 304.52,639.98 305.00,652.00 C305.48,664.02 306.00,680.50 306.50,693.00 C307.00,705.50 307.43,716.27 308.00,727.00 C308.57,737.73 309.40,748.90 309.90,757.40 C310.40,765.90 310.60,772.60 311.00,778.00 C311.40,783.40 311.87,788.80 312.30,789.80 C312.73,790.80 313.15,787.30 313.60,784.00 C314.05,780.70 314.50,774.90 315.00,770.00 C315.50,765.10 316.02,761.27 316.60,754.60 C317.18,747.93 317.92,736.77 318.50,730.00 C319.08,723.23 319.47,720.02 320.10,714.00 C320.73,707.98 321.57,698.90 322.30,693.90 C323.03,688.90 323.75,686.98 324.50,684.00 C325.25,681.02 326.15,679.17 326.80,676.00 C327.45,672.83 327.92,667.98 328.40,665.00 C328.88,662.02 329.27,656.43 329.70,658.10 C330.13,659.77 330.55,668.28 331.00,675.00 C331.45,681.72 331.98,690.90 332.40,698.40 C332.82,705.90 333.13,712.55 333.50,720.00 C333.87,727.45 334.18,735.10 334.60,743.10 C335.02,751.10 335.55,760.53 336.00,768.00 C336.45,775.47 336.83,782.90 337.30,787.90 C337.77,792.90 338.32,795.77 338.80,798.00 C339.28,800.23 339.67,800.88 340.20,801.30 C340.73,801.72 341.43,800.57 342.00,800.50 C342.57,800.43 342.93,800.57 343.60,800.90 C344.27,801.23 344.88,802.05 346.00,802.50 C347.12,802.95 347.97,803.32 350.30,803.60 C352.63,803.88 355.63,804.02 360.00,804.20 C364.37,804.38 373.75,804.62 376.50,804.70" fill="none" stroke="#e49886" stroke-width="5.4" stroke-linejoin="round"/>
<path d="M272.50,803.80 C273.42,803.67 276.05,803.65 278.00,803.00 C279.95,802.35 282.62,801.07 284.20,799.90 C285.78,798.73 286.43,797.93 287.50,796.00 C288.57,794.07 289.77,792.63 290.60,788.30 C291.43,783.97 291.68,779.45 292.50,770.00 C293.32,760.55 294.72,744.93 295.50,731.60 C296.28,718.27 296.70,702.87 297.20,690.00 C297.70,677.13 298.03,665.07 298.50,654.40 C298.97,643.73 299.60,633.30 300.00,626.00 C300.40,618.70 300.60,614.02 300.90,610.60 C301.20,607.18 301.52,605.77 301.80,605.50 C302.08,605.23 302.30,606.43 302.60,609.00 C302.90,611.57 303.20,613.73 303.60,620.90 C304.00,628.07 304.52,639.98 305.00,652.00 C305.48,664.02 306.00,680.50 306.50,693.00 C307.00,705.50 307.43,716.27 308.00,727.00 C308.57,737.73 309.40,748.90 309.90,757.40 C310.40,765.90 310.60,772.60 311.00,778.00 C311.40,783.40 311.87,788.80 312.30,789.80 C312.73,790.80 313.15,787.30 313.60,784.00 C314.05,780.70 314.50,774.90 315.00,770.00 C315.50,765.10 316.02,761.27 316.60,754.60 C317.18,747.93 317.92,736.77 318.50,730.00 C319.08,723.23 319.47,720.02 320.10,714.00 C320.73,707.98 321.57,698.90 322.30,693.90 C323.03,688.90 323.75,686.98 324.50,684.00 C325.25,681.02 326.15,679.17 326.80,676.00 C327.45,672.83 327.92,667.98 328.40,665.00 C328.88,662.02 329.27,656.43 329.70,658.10 C330.13,659.77 330.55,668.28 331.00,675.00 C331.45,681.72 331.98,690.90 332.40,698.40 C332.82,705.90 333.13,712.55 333.50,720.00 C333.87,727.45 334.18,735.10 334.60,743.10 C335.02,751.10 335.55,760.53 336.00,768.00 C336.45,775.47 336.83,782.90 337.30,787.90 C337.77,792.90 338.32,795.77 338.80,798.00 C339.28,800.23 339.67,800.88 340.20,801.30 C340.73,801.72 341.43,800.57 342.00,800.50 C342.57,800.43 342.93,800.57 343.60,800.90 C344.27,801.23 344.88,802.05 346.00,802.50 C347.12,802.95 347.97,803.32 350.30,803.60 C352.63,803.88 355.63,804.02 360.00,804.20 C364.37,804.38 373.75,804.62 376.50,804.70" fill="none" stroke="#000" stroke-width="3.0" stroke-linejoin="round"/>
</g>
<rect x="272.5" y="507.0" width="104.0" height="310.20000000000005" fill="none" stroke="#000" stroke-width="3.4"/>
<text x="272.50" y="847.5" font-size="27" text-anchor="middle">600</text>
<line x1="341.83" y1="817.20" x2="341.83" y2="809.20" stroke="#000" stroke-width="3.0"/>
<line x1="341.83" y1="507.00" x2="341.83" y2="515.00" stroke="#000" stroke-width="3.0"/>
<text x="341.83" y="847.5" font-size="27" text-anchor="middle">630</text>
<line x1="307.17" y1="817.20" x2="307.17" y2="812.60" stroke="#000" stroke-width="3.0"/>
<line x1="307.17" y1="507.00" x2="307.17" y2="511.60" stroke="#000" stroke-width="3.0"/>
<clipPath id="cp2"><rect x="386.3" y="507.0" width="189.49999999999994" height="310.20000000000005"/></clipPath>
<g clip-path="url(#cp2)">
<ellipse cx="393.5" cy="805.0" rx="3.5" ry="3.5" fill="#e49886"/>
<ellipse cx="408.4" cy="739.0" rx="2.9" ry="25.5" fill="#e49886"/>
<path d="M403.89,696.80 L404.19,698.69 L404.50,701.00 L404.83,704.01 L405.18,707.71 L405.53,711.67 L405.88,715.44 L406.20,718.60 L406.49,721.08 L406.76,723.18 L407.01,724.97 L407.26,726.55 L407.50,728.00 L407.73,729.46 L407.94,730.86 L408.16,732.01 L408.37,732.69 L408.60,732.70 L408.85,731.96 L409.11,730.61 L409.37,728.76 L409.64,726.52 L409.90,724.00 L410.16,720.98 L410.42,717.39 L410.68,713.56 L410.94,709.82 L411.20,706.50 L411.46,703.55 L411.72,700.76 L411.98,698.19 L412.24,695.91 L412.50,694.00 L412.76,692.35 L413.02,690.91Z" fill="#e49886"/>
<ellipse cx="421.0" cy="804.5" rx="3.2" ry="3.8" fill="#e49886"/>
<path d="M426.50,809.30 C426.83,807.75 427.75,803.05 428.50,800.00 C429.25,796.95 430.17,793.58 431.00,791.00 C431.83,788.42 432.75,785.87 433.50,784.50 C434.25,783.13 434.83,782.80 435.50,782.80 C436.17,782.80 436.83,783.30 437.50,784.50 C438.17,785.70 438.92,787.75 439.50,790.00 C440.08,792.25 440.58,794.78 441.00,798.00 C441.42,801.22 443.17,807.37 442.00,809.30 C440.83,811.23 436.58,809.60 434.00,809.60 C431.42,809.60 427.75,809.35 426.50,809.30Z" fill="#e49886"/>
<ellipse cx="454.0" cy="779.0" rx="2.6" ry="11.5" fill="#e49886"/>
<ellipse cx="470.0" cy="798.0" rx="3.0" ry="11.0" fill="#e49886"/>
<path d="M487.60,809.20 C487.75,807.00 488.02,800.03 488.50,796.00 C488.98,791.97 489.60,788.83 490.50,785.00 C491.40,781.17 492.82,775.50 493.90,773.00 C494.98,770.50 495.98,771.58 497.00,770.00 C498.02,768.42 498.97,765.08 500.00,763.50 C501.03,761.92 502.12,760.67 503.20,760.50 C504.28,760.33 505.45,760.92 506.50,762.50 C507.55,764.08 508.67,766.75 509.50,770.00 C510.33,773.25 511.08,777.67 511.50,782.00 C511.92,786.33 512.00,791.47 512.00,796.00 C512.00,800.53 513.50,806.93 511.50,809.20 C509.50,811.47 503.98,809.60 500.00,809.60 C496.02,809.60 489.67,809.27 487.60,809.20Z" fill="#e49886"/>
<ellipse cx="527.4" cy="690.0" rx="2.8" ry="16.0" fill="#e49886"/>
<path d="M450.57,691.38 L450.80,694.00 L451.04,696.98 L451.28,700.45 L451.53,704.09 L451.77,707.58 L452.00,710.60 L452.21,712.68 L452.41,714.05 L452.61,715.38 L452.83,717.37 L453.10,720.70 L453.44,725.98 L453.82,732.77 L454.23,740.13 L454.63,747.14 L455.00,752.90 L455.33,757.50 L455.63,761.57 L455.92,764.93 L456.21,767.42 L456.50,768.90 L454.00,768.90 L453.71,767.42 L453.42,764.93 L453.13,761.57 L452.83,757.50 L452.50,752.90 L452.13,747.14 L451.73,740.13 L451.32,732.77 L450.94,725.98 L450.60,720.70 L450.33,717.37 L450.11,715.38 L449.91,714.05 L449.71,712.68 L449.50,710.60 L449.27,707.58 L449.03,704.09 L448.78,700.45 L448.54,696.98 L448.30,694.00 L448.07,691.38Z" fill="#e49886"/>
<path d="M468.65,779.52 L469.00,775.00 L469.46,768.21 L470.00,759.36 L470.57,749.60 L471.12,740.07 L471.60,731.90 L472.00,725.35 L472.34,719.65 L472.66,714.44 L472.97,709.34 L473.30,704.00 L473.64,698.34 L473.99,692.62 L474.33,686.92 L474.67,681.35 L475.00,676.00 L475.31,670.71 L475.62,665.42 L475.92,660.37 L476.21,655.81 L476.50,652.00 L476.78,648.77 L477.06,645.96 L477.34,643.81 L479.84,643.81 L479.56,645.96 L479.28,648.77 L479.00,652.00 L478.71,655.81 L478.42,660.37 L478.12,665.42 L477.81,670.71 L477.50,676.00 L477.17,681.35 L476.83,686.92 L476.49,692.62 L476.14,698.34 L475.80,704.00 L475.47,709.34 L475.16,714.44 L474.84,719.65 L474.50,725.35 L474.10,731.90 L473.62,740.07 L473.07,749.60 L472.50,759.36 L471.96,768.21 L471.50,775.00 L471.15,779.52Z" fill="#e49886"/>
<path d="M483.19,643.52 L483.49,645.75 L483.79,648.88 L484.09,652.69 L484.40,657.00 L484.72,662.06 L485.04,668.02 L485.36,674.47 L485.68,681.00 L486.00,687.20 L486.31,693.08 L486.61,698.90 L486.91,704.67 L487.21,710.37 L487.50,716.00 L487.78,721.58 L488.06,727.12 L488.33,732.57 L488.61,737.91 L488.90,743.10 L489.20,748.17 L489.52,753.14 L489.84,757.97 L490.16,762.60 L490.50,767.00 L490.83,771.24 L491.16,775.35 L491.51,779.22 L491.88,782.71 L492.30,785.70 L489.80,785.70 L489.38,782.71 L489.01,779.22 L488.66,775.35 L488.33,771.24 L488.00,767.00 L487.66,762.60 L487.34,757.97 L487.02,753.14 L486.70,748.17 L486.40,743.10 L486.11,737.91 L485.83,732.57 L485.56,727.12 L485.28,721.58 L485.00,716.00 L484.71,710.37 L484.41,704.67 L484.11,698.90 L483.81,693.08 L483.50,687.20 L483.18,681.00 L482.86,674.47 L482.54,668.02 L482.22,662.06 L481.90,657.00 L481.59,652.69 L481.29,648.88 L480.99,645.75 L480.69,643.52Z" fill="#e49886"/>
<path d="M393.28,797.03 L393.54,796.15 L393.78,795.08 L394.03,793.52 L394.30,791.20 L394.59,788.01 L394.89,784.14 L395.19,779.75 L395.50,774.98 L395.80,770.00 L396.10,764.57 L396.41,758.59 L396.72,752.40 L397.02,746.36 L397.30,740.80 L397.56,735.75 L397.80,730.96 L398.03,726.43 L398.26,722.12 L398.50,718.00 L398.75,713.97 L399.00,710.04 L399.25,706.38 L399.49,703.15 L399.70,700.50 L399.89,698.57 L400.05,697.25 L400.20,696.34 L400.35,695.66 L400.50,695.00 L400.65,694.28 L400.79,693.64 L400.94,693.19 L401.10,693.07 L402.90,693.07 L402.74,693.19 L402.59,693.64 L402.45,694.28 L402.30,695.00 L402.15,695.66 L402.00,696.34 L401.85,697.25 L401.69,698.57 L401.50,700.50 L401.29,703.15 L401.05,706.38 L400.80,710.04 L400.55,713.97 L400.30,718.00 L400.06,722.12 L399.83,726.43 L399.60,730.96 L399.36,735.75 L399.10,740.80 L398.82,746.36 L398.52,752.40 L398.21,758.59 L397.90,764.57 L397.60,770.00 L397.30,774.98 L396.99,779.75 L396.69,784.14 L396.39,788.01 L396.10,791.20 L395.83,793.52 L395.58,795.08 L395.34,796.15 L395.08,797.03Z" fill="#e49886"/>
<path d="M507.24,790.99 L507.60,789.41 L507.90,787.60 L508.19,785.48 L508.50,783.00 L508.86,780.07 L509.23,776.73 L509.60,773.10 L509.93,769.32 L510.20,765.50 L510.37,761.90 L510.47,758.45 L510.54,754.75 L510.63,750.40 L510.80,745.00 L511.05,738.07 L511.36,729.88 L511.70,721.14 L512.05,712.61 L512.40,705.00 L512.74,698.45 L513.08,692.46 L513.43,686.86 L513.80,681.43 L514.20,676.00 L514.63,670.44 L515.09,664.88 L515.56,659.49 L516.04,654.47 L516.50,650.00 L516.96,645.86 L517.42,641.93 L517.87,638.54 L519.87,638.54 L519.42,641.93 L518.96,645.86 L518.50,650.00 L518.04,654.47 L517.56,659.49 L517.09,664.88 L516.63,670.44 L516.20,676.00 L515.80,681.43 L515.43,686.86 L515.08,692.46 L514.74,698.45 L514.40,705.00 L514.05,712.61 L513.70,721.14 L513.36,729.88 L513.05,738.07 L512.80,745.00 L512.63,750.40 L512.54,754.75 L512.47,758.45 L512.37,761.90 L512.20,765.50 L511.93,769.32 L511.60,773.10 L511.23,776.73 L510.86,780.07 L510.50,783.00 L510.19,785.48 L509.90,787.60 L509.60,789.41 L509.24,790.99Z" fill="#e49886"/>
<path d="M537.64,630.54 L537.92,632.96 L538.21,635.84 L538.50,639.00 L538.80,642.48 L539.09,646.39 L539.39,650.69 L539.69,655.34 L540.00,660.30 L540.33,665.69 L540.67,671.53 L541.02,677.64 L541.36,683.86 L541.70,690.00 L542.02,696.10 L542.34,702.28 L542.66,708.47 L542.98,714.63 L543.30,720.70 L543.63,726.69 L543.97,732.65 L544.32,738.53 L544.66,744.33 L545.00,750.00 L545.33,755.75 L545.65,761.61 L545.98,767.25 L546.32,772.39 L546.70,776.70 L547.12,780.02 L547.58,782.55 L548.06,784.56 L545.56,784.56 L545.08,782.55 L544.62,780.02 L544.20,776.70 L543.82,772.39 L543.48,767.25 L543.15,761.61 L542.83,755.75 L542.50,750.00 L542.16,744.33 L541.82,738.53 L541.47,732.65 L541.13,726.69 L540.80,720.70 L540.48,714.63 L540.16,708.47 L539.84,702.28 L539.52,696.10 L539.20,690.00 L538.86,683.86 L538.52,677.64 L538.17,671.53 L537.83,665.69 L537.50,660.30 L537.19,655.34 L536.89,650.69 L536.59,646.39 L536.30,642.48 L536.00,639.00 L535.71,635.84 L535.42,632.96 L535.14,630.54Z" fill="#e49886"/>
<path d="M521.38,635.82 L521.68,637.86 L521.98,640.37 L522.30,643.00 L522.63,645.96 L522.97,649.50 L523.31,653.28 L523.65,656.99 L524.00,660.30 L524.36,663.22 L524.72,665.97 L525.09,668.52 L525.45,670.87 L525.80,673.00 L526.13,675.15 L526.45,677.34 L526.77,679.19 L527.08,680.34 L527.40,680.40 L527.72,679.12 L528.04,676.75 L528.35,673.68 L528.67,670.30 L529.00,667.00 L529.33,663.66 L529.67,660.03 L530.01,656.27 L530.35,652.57 L530.70,649.10 L531.05,645.76 L531.40,642.43 L531.76,639.26 L532.13,636.41 L532.50,634.00 L532.90,631.91 L533.31,630.04 L533.73,628.60Z" fill="#e49886"/>
<path d="M541.50,760.00 C541.83,757.50 542.75,745.50 543.50,745.00 C544.25,744.50 545.00,752.83 546.00,757.00 C547.00,761.17 548.33,766.33 549.50,770.00 C550.67,773.67 551.83,776.67 553.00,779.00 C554.17,781.33 555.42,782.83 556.50,784.00 C557.58,785.17 558.58,785.75 559.50,786.00 C560.42,786.25 561.08,785.25 562.00,785.50 C562.92,785.75 563.92,786.42 565.00,787.50 C566.08,788.58 567.08,789.92 568.50,792.00 C569.92,794.08 572.92,797.33 573.50,800.00 C574.08,802.67 573.25,806.33 572.00,808.00 C570.75,809.67 570.83,809.67 566.00,810.00 C561.17,810.33 547.00,813.33 543.00,810.00 C539.00,806.67 542.25,798.33 542.00,790.00 C541.75,781.67 541.58,765.00 541.50,760.00Z" fill="#e49886"/>
<path d="M386.30,803.30 C386.92,803.25 388.87,803.17 390.00,803.00 C391.13,802.83 392.30,803.13 393.10,802.30 C393.90,801.47 394.30,799.85 394.80,798.00 C395.30,796.15 395.63,795.87 396.10,791.20 C396.57,786.53 397.10,778.40 397.60,770.00 C398.10,761.60 398.65,749.47 399.10,740.80 C399.55,732.13 399.90,724.72 400.30,718.00 C400.70,711.28 401.17,704.33 401.50,700.50 C401.83,696.67 402.03,696.18 402.30,695.00 C402.57,693.82 402.73,692.40 403.10,693.40 C403.47,694.40 403.98,696.80 404.50,701.00 C405.02,705.20 405.70,714.10 406.20,718.60 C406.70,723.10 407.10,725.65 407.50,728.00 C407.90,730.35 408.20,733.37 408.60,732.70 C409.00,732.03 409.47,728.37 409.90,724.00 C410.33,719.63 410.77,711.50 411.20,706.50 C411.63,701.50 412.07,696.85 412.50,694.00 C412.93,691.15 413.38,688.57 413.80,689.40 C414.22,690.23 414.58,693.80 415.00,699.00 C415.42,704.20 415.87,712.93 416.30,720.60 C416.73,728.27 417.17,736.60 417.60,745.00 C418.03,753.40 418.50,763.83 418.90,771.00 C419.30,778.17 419.60,783.28 420.00,788.00 C420.40,792.72 420.58,797.08 421.30,799.30 C422.02,801.52 423.52,801.18 424.30,801.30 C425.08,801.42 425.50,800.17 426.00,800.00 C426.50,799.83 426.80,800.05 427.30,800.30 C427.80,800.55 428.32,801.33 429.00,801.50 C429.68,801.67 430.67,801.55 431.40,801.30 C432.13,801.05 432.73,800.33 433.40,800.00 C434.07,799.67 434.57,799.75 435.40,799.30 C436.23,798.85 437.72,798.68 438.40,797.30 C439.08,795.92 439.17,793.70 439.50,791.00 C439.83,788.30 440.00,787.93 440.40,781.10 C440.80,774.27 441.38,760.08 441.90,750.00 C442.42,739.92 443.07,728.60 443.50,720.60 C443.93,712.60 444.17,707.03 444.50,702.00 C444.83,696.97 445.07,693.33 445.50,690.40 C445.93,687.47 446.63,683.80 447.10,684.40 C447.57,685.00 447.90,689.63 448.30,694.00 C448.70,698.37 449.12,706.15 449.50,710.60 C449.88,715.05 450.10,713.65 450.60,720.70 C451.10,727.75 451.93,744.87 452.50,752.90 C453.07,760.93 453.50,767.38 454.00,768.90 C454.50,770.42 454.95,765.92 455.50,762.00 C456.05,758.08 456.72,751.07 457.30,745.40 C457.88,739.73 458.43,732.48 459.00,728.00 C459.57,723.52 460.15,718.50 460.70,718.50 C461.25,718.50 461.75,723.90 462.30,728.00 C462.85,732.10 463.38,737.43 464.00,743.10 C464.62,748.77 465.33,756.35 466.00,762.00 C466.67,767.65 467.32,773.05 468.00,777.00 C468.68,780.95 469.52,786.03 470.10,785.70 C470.68,785.37 470.83,783.97 471.50,775.00 C472.17,766.03 473.38,743.73 474.10,731.90 C474.82,720.07 475.23,713.32 475.80,704.00 C476.37,694.68 476.97,684.67 477.50,676.00 C478.03,667.33 478.52,657.60 479.00,652.00 C479.48,646.40 479.92,641.57 480.40,642.40 C480.88,643.23 481.38,649.53 481.90,657.00 C482.42,664.47 482.98,677.37 483.50,687.20 C484.02,697.03 484.52,706.68 485.00,716.00 C485.48,725.32 485.90,734.60 486.40,743.10 C486.90,751.60 487.43,759.90 488.00,767.00 C488.57,774.10 489.05,781.20 489.80,785.70 C490.55,790.20 491.57,791.95 492.50,794.00 C493.43,796.05 493.80,797.33 495.40,798.00 C497.00,798.67 500.42,798.25 502.10,798.00 C503.78,797.75 504.38,797.43 505.50,796.50 C506.62,795.57 507.97,794.65 508.80,792.40 C509.63,790.15 509.93,787.48 510.50,783.00 C511.07,778.52 511.82,771.83 512.20,765.50 C512.58,759.17 512.43,755.08 512.80,745.00 C513.17,734.92 513.83,716.50 514.40,705.00 C514.97,693.50 515.52,685.17 516.20,676.00 C516.88,666.83 517.75,656.90 518.50,650.00 C519.25,643.10 520.07,635.77 520.70,634.60 C521.33,633.43 521.75,638.72 522.30,643.00 C522.85,647.28 523.42,655.30 524.00,660.30 C524.58,665.30 525.23,669.65 525.80,673.00 C526.37,676.35 526.87,681.40 527.40,680.40 C527.93,679.40 528.45,672.22 529.00,667.00 C529.55,661.78 530.12,654.60 530.70,649.10 C531.28,643.60 531.87,637.55 532.50,634.00 C533.13,630.45 533.92,626.97 534.50,627.80 C535.08,628.63 535.50,633.58 536.00,639.00 C536.50,644.42 536.97,651.80 537.50,660.30 C538.03,668.80 538.65,679.93 539.20,690.00 C539.75,700.07 540.25,710.70 540.80,720.70 C541.35,730.70 541.93,740.67 542.50,750.00 C543.07,759.33 543.53,770.37 544.20,776.70 C544.87,783.03 545.75,785.02 546.50,788.00 C547.25,790.98 547.62,792.77 548.70,794.60 C549.78,796.43 551.33,797.70 553.00,799.00 C554.67,800.30 554.90,801.83 558.70,802.40 C562.50,802.97 572.95,802.40 575.80,802.40" fill="none" stroke="#e49886" stroke-width="5.4" stroke-linejoin="round"/>
<path d="M386.30,803.30 C386.92,803.25 388.87,803.17 390.00,803.00 C391.13,802.83 392.30,803.13 393.10,802.30 C393.90,801.47 394.30,799.85 394.80,798.00 C395.30,796.15 395.63,795.87 396.10,791.20 C396.57,786.53 397.10,778.40 397.60,770.00 C398.10,761.60 398.65,749.47 399.10,740.80 C399.55,732.13 399.90,724.72 400.30,718.00 C400.70,711.28 401.17,704.33 401.50,700.50 C401.83,696.67 402.03,696.18 402.30,695.00 C402.57,693.82 402.73,692.40 403.10,693.40 C403.47,694.40 403.98,696.80 404.50,701.00 C405.02,705.20 405.70,714.10 406.20,718.60 C406.70,723.10 407.10,725.65 407.50,728.00 C407.90,730.35 408.20,733.37 408.60,732.70 C409.00,732.03 409.47,728.37 409.90,724.00 C410.33,719.63 410.77,711.50 411.20,706.50 C411.63,701.50 412.07,696.85 412.50,694.00 C412.93,691.15 413.38,688.57 413.80,689.40 C414.22,690.23 414.58,693.80 415.00,699.00 C415.42,704.20 415.87,712.93 416.30,720.60 C416.73,728.27 417.17,736.60 417.60,745.00 C418.03,753.40 418.50,763.83 418.90,771.00 C419.30,778.17 419.60,783.28 420.00,788.00 C420.40,792.72 420.58,797.08 421.30,799.30 C422.02,801.52 423.52,801.18 424.30,801.30 C425.08,801.42 425.50,800.17 426.00,800.00 C426.50,799.83 426.80,800.05 427.30,800.30 C427.80,800.55 428.32,801.33 429.00,801.50 C429.68,801.67 430.67,801.55 431.40,801.30 C432.13,801.05 432.73,800.33 433.40,800.00 C434.07,799.67 434.57,799.75 435.40,799.30 C436.23,798.85 437.72,798.68 438.40,797.30 C439.08,795.92 439.17,793.70 439.50,791.00 C439.83,788.30 440.00,787.93 440.40,781.10 C440.80,774.27 441.38,760.08 441.90,750.00 C442.42,739.92 443.07,728.60 443.50,720.60 C443.93,712.60 444.17,707.03 444.50,702.00 C444.83,696.97 445.07,693.33 445.50,690.40 C445.93,687.47 446.63,683.80 447.10,684.40 C447.57,685.00 447.90,689.63 448.30,694.00 C448.70,698.37 449.12,706.15 449.50,710.60 C449.88,715.05 450.10,713.65 450.60,720.70 C451.10,727.75 451.93,744.87 452.50,752.90 C453.07,760.93 453.50,767.38 454.00,768.90 C454.50,770.42 454.95,765.92 455.50,762.00 C456.05,758.08 456.72,751.07 457.30,745.40 C457.88,739.73 458.43,732.48 459.00,728.00 C459.57,723.52 460.15,718.50 460.70,718.50 C461.25,718.50 461.75,723.90 462.30,728.00 C462.85,732.10 463.38,737.43 464.00,743.10 C464.62,748.77 465.33,756.35 466.00,762.00 C466.67,767.65 467.32,773.05 468.00,777.00 C468.68,780.95 469.52,786.03 470.10,785.70 C470.68,785.37 470.83,783.97 471.50,775.00 C472.17,766.03 473.38,743.73 474.10,731.90 C474.82,720.07 475.23,713.32 475.80,704.00 C476.37,694.68 476.97,684.67 477.50,676.00 C478.03,667.33 478.52,657.60 479.00,652.00 C479.48,646.40 479.92,641.57 480.40,642.40 C480.88,643.23 481.38,649.53 481.90,657.00 C482.42,664.47 482.98,677.37 483.50,687.20 C484.02,697.03 484.52,706.68 485.00,716.00 C485.48,725.32 485.90,734.60 486.40,743.10 C486.90,751.60 487.43,759.90 488.00,767.00 C488.57,774.10 489.05,781.20 489.80,785.70 C490.55,790.20 491.57,791.95 492.50,794.00 C493.43,796.05 493.80,797.33 495.40,798.00 C497.00,798.67 500.42,798.25 502.10,798.00 C503.78,797.75 504.38,797.43 505.50,796.50 C506.62,795.57 507.97,794.65 508.80,792.40 C509.63,790.15 509.93,787.48 510.50,783.00 C511.07,778.52 511.82,771.83 512.20,765.50 C512.58,759.17 512.43,755.08 512.80,745.00 C513.17,734.92 513.83,716.50 514.40,705.00 C514.97,693.50 515.52,685.17 516.20,676.00 C516.88,666.83 517.75,656.90 518.50,650.00 C519.25,643.10 520.07,635.77 520.70,634.60 C521.33,633.43 521.75,638.72 522.30,643.00 C522.85,647.28 523.42,655.30 524.00,660.30 C524.58,665.30 525.23,669.65 525.80,673.00 C526.37,676.35 526.87,681.40 527.40,680.40 C527.93,679.40 528.45,672.22 529.00,667.00 C529.55,661.78 530.12,654.60 530.70,649.10 C531.28,643.60 531.87,637.55 532.50,634.00 C533.13,630.45 533.92,626.97 534.50,627.80 C535.08,628.63 535.50,633.58 536.00,639.00 C536.50,644.42 536.97,651.80 537.50,660.30 C538.03,668.80 538.65,679.93 539.20,690.00 C539.75,700.07 540.25,710.70 540.80,720.70 C541.35,730.70 541.93,740.67 542.50,750.00 C543.07,759.33 543.53,770.37 544.20,776.70 C544.87,783.03 545.75,785.02 546.50,788.00 C547.25,790.98 547.62,792.77 548.70,794.60 C549.78,796.43 551.33,797.70 553.00,799.00 C554.67,800.30 554.90,801.83 558.70,802.40 C562.50,802.97 572.95,802.40 575.80,802.40" fill="none" stroke="#000" stroke-width="3.0" stroke-linejoin="round"/>
</g>
<rect x="386.3" y="507.0" width="189.49999999999994" height="310.20000000000005" fill="none" stroke="#000" stroke-width="3.4"/>
<line x1="397.45" y1="817.20" x2="397.45" y2="809.20" stroke="#000" stroke-width="3.0"/>
<line x1="397.45" y1="507.00" x2="397.45" y2="515.00" stroke="#000" stroke-width="3.0"/>
<text x="397.45" y="847.5" font-size="27" text-anchor="middle">920</text>
<line x1="464.33" y1="817.20" x2="464.33" y2="809.20" stroke="#000" stroke-width="3.0"/>
<line x1="464.33" y1="507.00" x2="464.33" y2="515.00" stroke="#000" stroke-width="3.0"/>
<text x="464.33" y="847.5" font-size="27" text-anchor="middle">950</text>
<line x1="531.21" y1="817.20" x2="531.21" y2="809.20" stroke="#000" stroke-width="3.0"/>
<line x1="531.21" y1="507.00" x2="531.21" y2="515.00" stroke="#000" stroke-width="3.0"/>
<text x="531.21" y="847.5" font-size="27" text-anchor="middle">980</text>
<line x1="430.89" y1="817.20" x2="430.89" y2="812.60" stroke="#000" stroke-width="3.0"/>
<line x1="430.89" y1="507.00" x2="430.89" y2="511.60" stroke="#000" stroke-width="3.0"/>
<line x1="497.77" y1="817.20" x2="497.77" y2="812.60" stroke="#000" stroke-width="3.0"/>
<line x1="497.77" y1="507.00" x2="497.77" y2="511.60" stroke="#000" stroke-width="3.0"/>
<line x1="564.65" y1="817.20" x2="564.65" y2="812.60" stroke="#000" stroke-width="3.0"/>
<line x1="564.65" y1="507.00" x2="564.65" y2="511.60" stroke="#000" stroke-width="3.0"/>
<clipPath id="cp3"><rect x="585.7" y="507.0" width="94.59999999999991" height="310.20000000000005"/></clipPath>
<g clip-path="url(#cp3)">
<ellipse cx="601.3" cy="806.0" rx="1.8" ry="3.5" fill="#e49886"/>
<ellipse cx="612.4" cy="806.0" rx="1.8" ry="3.5" fill="#e49886"/>
<ellipse cx="622.8" cy="806.0" rx="1.8" ry="3.5" fill="#e49886"/>
<ellipse cx="637.8" cy="805.5" rx="1.8" ry="3.0" fill="#e49886"/>
<ellipse cx="650.5" cy="804.0" rx="2.0" ry="4.0" fill="#e49886"/>
<ellipse cx="665.7" cy="806.0" rx="1.8" ry="3.5" fill="#e49886"/>
<ellipse cx="646.5" cy="789.5" rx="2.5" ry="4.0" fill="#e49886"/>
<path d="M631.09,674.44 L631.31,675.63 L631.53,677.51 L631.77,679.74 L632.00,682.00 L632.23,684.20 L632.47,686.58 L632.71,689.24 L632.95,692.28 L633.20,695.80 L633.45,699.89 L633.71,704.47 L633.97,709.43 L634.23,714.65 L634.50,720.00 L634.77,725.61 L635.05,731.56 L635.34,737.66 L635.62,743.73 L635.90,749.60 L636.18,755.35 L636.46,761.11 L636.75,766.74 L637.03,772.08 L637.30,777.00 L637.53,781.60 L637.72,785.98 L637.92,789.97 L638.19,793.43 L638.60,796.20 L639.20,798.14 L637.70,798.14 L637.10,796.20 L636.69,793.43 L636.42,789.97 L636.22,785.98 L636.03,781.60 L635.80,777.00 L635.53,772.08 L635.25,766.74 L634.96,761.11 L634.68,755.35 L634.40,749.60 L634.12,743.73 L633.84,737.66 L633.55,731.56 L633.27,725.61 L633.00,720.00 L632.73,714.65 L632.47,709.43 L632.21,704.47 L631.95,699.89 L631.70,695.80 L631.45,692.28 L631.21,689.24 L630.97,686.58 L630.73,684.20 L630.50,682.00 L630.27,679.74 L630.03,677.51 L629.81,675.63 L629.59,674.44Z" fill="#e49886"/>
<path d="M660.50,694.90 L660.74,695.32 L660.98,696.00 L661.23,696.99 L661.47,698.31 L661.70,700.00 L661.92,702.00 L662.13,704.30 L662.34,706.97 L662.56,710.11 L662.80,713.80 L663.06,718.23 L663.34,723.32 L663.63,728.83 L663.92,734.48 L664.20,740.00 L664.47,745.54 L664.73,751.29 L664.98,757.01 L665.24,762.49 L665.50,767.50 L665.76,772.02 L666.02,776.20 L666.27,780.07 L666.53,783.66 L666.80,787.00 L667.06,790.16 L667.31,793.11 L667.57,795.76 L667.86,798.03 L668.20,799.80 L668.59,800.93 L669.02,801.48 L669.48,801.69 L667.98,801.69 L667.52,801.48 L667.09,800.93 L666.70,799.80 L666.36,798.03 L666.07,795.76 L665.81,793.11 L665.56,790.16 L665.30,787.00 L665.03,783.66 L664.77,780.07 L664.52,776.20 L664.26,772.02 L664.00,767.50 L663.74,762.49 L663.48,757.01 L663.23,751.29 L662.97,745.54 L662.70,740.00 L662.42,734.48 L662.13,728.83 L661.84,723.32 L661.56,718.23 L661.30,713.80 L661.06,710.11 L660.84,706.97 L660.63,704.30 L660.42,702.00 L660.20,700.00 L659.97,698.31 L659.73,696.99 L659.48,696.00 L659.24,695.32 L659.00,694.90Z" fill="#e49886"/>
<path d="M585.70,803.10 C586.75,803.05 590.10,803.05 592.00,802.80 C593.90,802.55 595.85,802.23 597.10,801.60 C598.35,800.97 598.77,800.45 599.50,799.00 C600.23,797.55 600.87,801.07 601.50,792.90 C602.13,784.73 602.72,769.42 603.30,750.00 C603.88,730.58 604.53,698.07 605.00,676.40 C605.47,654.73 605.80,634.40 606.10,620.00 C606.40,605.60 606.60,597.42 606.80,590.00 C607.00,582.58 607.12,575.50 607.30,575.50 C607.48,575.50 607.68,582.58 607.90,590.00 C608.12,597.42 608.32,605.60 608.60,620.00 C608.88,634.40 609.20,654.73 609.60,676.40 C610.00,698.07 610.57,731.83 611.00,750.00 C611.43,768.17 611.83,777.73 612.20,785.40 C612.57,793.07 612.78,793.30 613.20,796.00 C613.62,798.70 613.90,800.60 614.70,801.60 C615.50,802.60 616.80,802.00 618.00,802.00 C619.20,802.00 621.00,802.60 621.90,801.60 C622.80,800.60 622.95,798.70 623.40,796.00 C623.85,793.30 624.20,790.90 624.60,785.40 C625.00,779.90 625.42,771.95 625.80,763.00 C626.18,754.05 626.53,741.87 626.90,731.70 C627.27,721.53 627.70,709.47 628.00,702.00 C628.30,694.53 628.47,691.52 628.70,686.90 C628.93,682.28 629.10,675.12 629.40,674.30 C629.70,673.48 630.12,678.42 630.50,682.00 C630.88,685.58 631.28,689.47 631.70,695.80 C632.12,702.13 632.55,711.03 633.00,720.00 C633.45,728.97 633.93,740.10 634.40,749.60 C634.87,759.10 635.35,769.23 635.80,777.00 C636.25,784.77 636.28,792.25 637.10,796.20 C637.92,800.15 639.80,800.23 640.70,800.70 C641.60,801.17 641.87,800.12 642.50,799.00 C643.13,797.88 643.75,795.37 644.50,794.00 C645.25,792.63 646.25,790.97 647.00,790.80 C647.75,790.63 648.35,791.95 649.00,793.00 C649.65,794.05 650.32,799.60 650.90,797.10 C651.48,794.60 651.97,785.92 652.50,778.00 C653.03,770.08 653.60,758.60 654.10,749.60 C654.60,740.60 655.05,731.47 655.50,724.00 C655.95,716.53 656.42,709.30 656.80,704.80 C657.18,700.30 657.43,698.65 657.80,697.00 C658.17,695.35 658.60,694.40 659.00,694.90 C659.40,695.40 659.82,696.85 660.20,700.00 C660.58,703.15 660.88,707.13 661.30,713.80 C661.72,720.47 662.25,731.05 662.70,740.00 C663.15,748.95 663.57,759.67 664.00,767.50 C664.43,775.33 664.85,781.62 665.30,787.00 C665.75,792.38 666.08,797.30 666.70,799.80 C667.32,802.30 668.10,801.40 669.00,802.00 C669.90,802.60 670.22,803.02 672.10,803.40 C673.98,803.78 678.93,804.15 680.30,804.30" fill="none" stroke="#e49886" stroke-width="5.4" stroke-linejoin="round"/>
<path d="M585.70,803.10 C586.75,803.05 590.10,803.05 592.00,802.80 C593.90,802.55 595.85,802.23 597.10,801.60 C598.35,800.97 598.77,800.45 599.50,799.00 C600.23,797.55 600.87,801.07 601.50,792.90 C602.13,784.73 602.72,769.42 603.30,750.00 C603.88,730.58 604.53,698.07 605.00,676.40 C605.47,654.73 605.80,634.40 606.10,620.00 C606.40,605.60 606.60,597.42 606.80,590.00 C607.00,582.58 607.12,575.50 607.30,575.50 C607.48,575.50 607.68,582.58 607.90,590.00 C608.12,597.42 608.32,605.60 608.60,620.00 C608.88,634.40 609.20,654.73 609.60,676.40 C610.00,698.07 610.57,731.83 611.00,750.00 C611.43,768.17 611.83,777.73 612.20,785.40 C612.57,793.07 612.78,793.30 613.20,796.00 C613.62,798.70 613.90,800.60 614.70,801.60 C615.50,802.60 616.80,802.00 618.00,802.00 C619.20,802.00 621.00,802.60 621.90,801.60 C622.80,800.60 622.95,798.70 623.40,796.00 C623.85,793.30 624.20,790.90 624.60,785.40 C625.00,779.90 625.42,771.95 625.80,763.00 C626.18,754.05 626.53,741.87 626.90,731.70 C627.27,721.53 627.70,709.47 628.00,702.00 C628.30,694.53 628.47,691.52 628.70,686.90 C628.93,682.28 629.10,675.12 629.40,674.30 C629.70,673.48 630.12,678.42 630.50,682.00 C630.88,685.58 631.28,689.47 631.70,695.80 C632.12,702.13 632.55,711.03 633.00,720.00 C633.45,728.97 633.93,740.10 634.40,749.60 C634.87,759.10 635.35,769.23 635.80,777.00 C636.25,784.77 636.28,792.25 637.10,796.20 C637.92,800.15 639.80,800.23 640.70,800.70 C641.60,801.17 641.87,800.12 642.50,799.00 C643.13,797.88 643.75,795.37 644.50,794.00 C645.25,792.63 646.25,790.97 647.00,790.80 C647.75,790.63 648.35,791.95 649.00,793.00 C649.65,794.05 650.32,799.60 650.90,797.10 C651.48,794.60 651.97,785.92 652.50,778.00 C653.03,770.08 653.60,758.60 654.10,749.60 C654.60,740.60 655.05,731.47 655.50,724.00 C655.95,716.53 656.42,709.30 656.80,704.80 C657.18,700.30 657.43,698.65 657.80,697.00 C658.17,695.35 658.60,694.40 659.00,694.90 C659.40,695.40 659.82,696.85 660.20,700.00 C660.58,703.15 660.88,707.13 661.30,713.80 C661.72,720.47 662.25,731.05 662.70,740.00 C663.15,748.95 663.57,759.67 664.00,767.50 C664.43,775.33 664.85,781.62 665.30,787.00 C665.75,792.38 666.08,797.30 666.70,799.80 C667.32,802.30 668.10,801.40 669.00,802.00 C669.90,802.60 670.22,803.02 672.10,803.40 C673.98,803.78 678.93,804.15 680.30,804.30" fill="none" stroke="#000" stroke-width="3.0" stroke-linejoin="round"/>
</g>
<rect x="585.7" y="507.0" width="94.59999999999991" height="310.20000000000005" fill="none" stroke="#000" stroke-width="3.4"/>
<text x="585.70" y="847.5" font-size="27" text-anchor="middle">1200</text>
<line x1="656.65" y1="817.20" x2="656.65" y2="809.20" stroke="#000" stroke-width="3.0"/>
<line x1="656.65" y1="507.00" x2="656.65" y2="515.00" stroke="#000" stroke-width="3.0"/>
<text x="656.65" y="847.5" font-size="27" text-anchor="middle">1260</text>
<line x1="621.17" y1="817.20" x2="621.17" y2="812.60" stroke="#000" stroke-width="3.0"/>
<line x1="621.17" y1="507.00" x2="621.17" y2="511.60" stroke="#000" stroke-width="3.0"/>
<line x1="72.50" y1="808.70" x2="80.50" y2="808.70" stroke="#000" stroke-width="3.0"/>
<line x1="261.70" y1="808.70" x2="253.70" y2="808.70" stroke="#000" stroke-width="3.0"/>
<text x="61.8" y="818.30" font-size="27" text-anchor="end">0</text>
<text x="58.5" y="516.60" font-size="27" text-anchor="end">1</text>
<text transform="translate(86.40,543.60) scale(0.9926,1)" x="-1.86" y="0" font-size="30">(b)</text>
<line x1="94.8" y1="563.9" x2="110.9" y2="563.9" stroke="#000" stroke-width="2.9"/>
<rect x="94.8" y="581.3" width="16.6" height="21.7" fill="#e49886"/>
<text transform="translate(125.50,573.20) scale(1.0033,1)" x="-2.17" y="0" font-size="26.5">Mean</text>
<text transform="translate(125.20,601.10) scale(0.9926,1)" x="-1.35" y="0" font-size="26.5">Comm. Err.</text>
<g transform="translate(40.6,734.3) rotate(-90)">
<text transform="translate(0.20,0.00) scale(1.0094,1)" x="-0.12" y="0" font-size="26.5">VDOS (a.u.)</text>
</g>
<text transform="translate(259.80,887.30) scale(0.9845,1)" x="-0.12" y="0" font-size="26.5">Wavenumber</text>
<text transform="translate(425.10,887.30) scale(0.9936,1)" x="-1.64" y="0" font-size="26.5">(cm</text>
<text transform="translate(469.20,878.00) scale(1.2675,1)" x="-0.94" y="0" font-size="19">−</text>
<text transform="translate(485.30,878.00) scale(0.8301,1)" x="-1.45" y="0" font-size="19">1</text>
<text transform="translate(496.60,887.90) scale(0.8540,1)" x="-0.16" y="0" font-size="26.5">)</text>
</svg></body></html>
